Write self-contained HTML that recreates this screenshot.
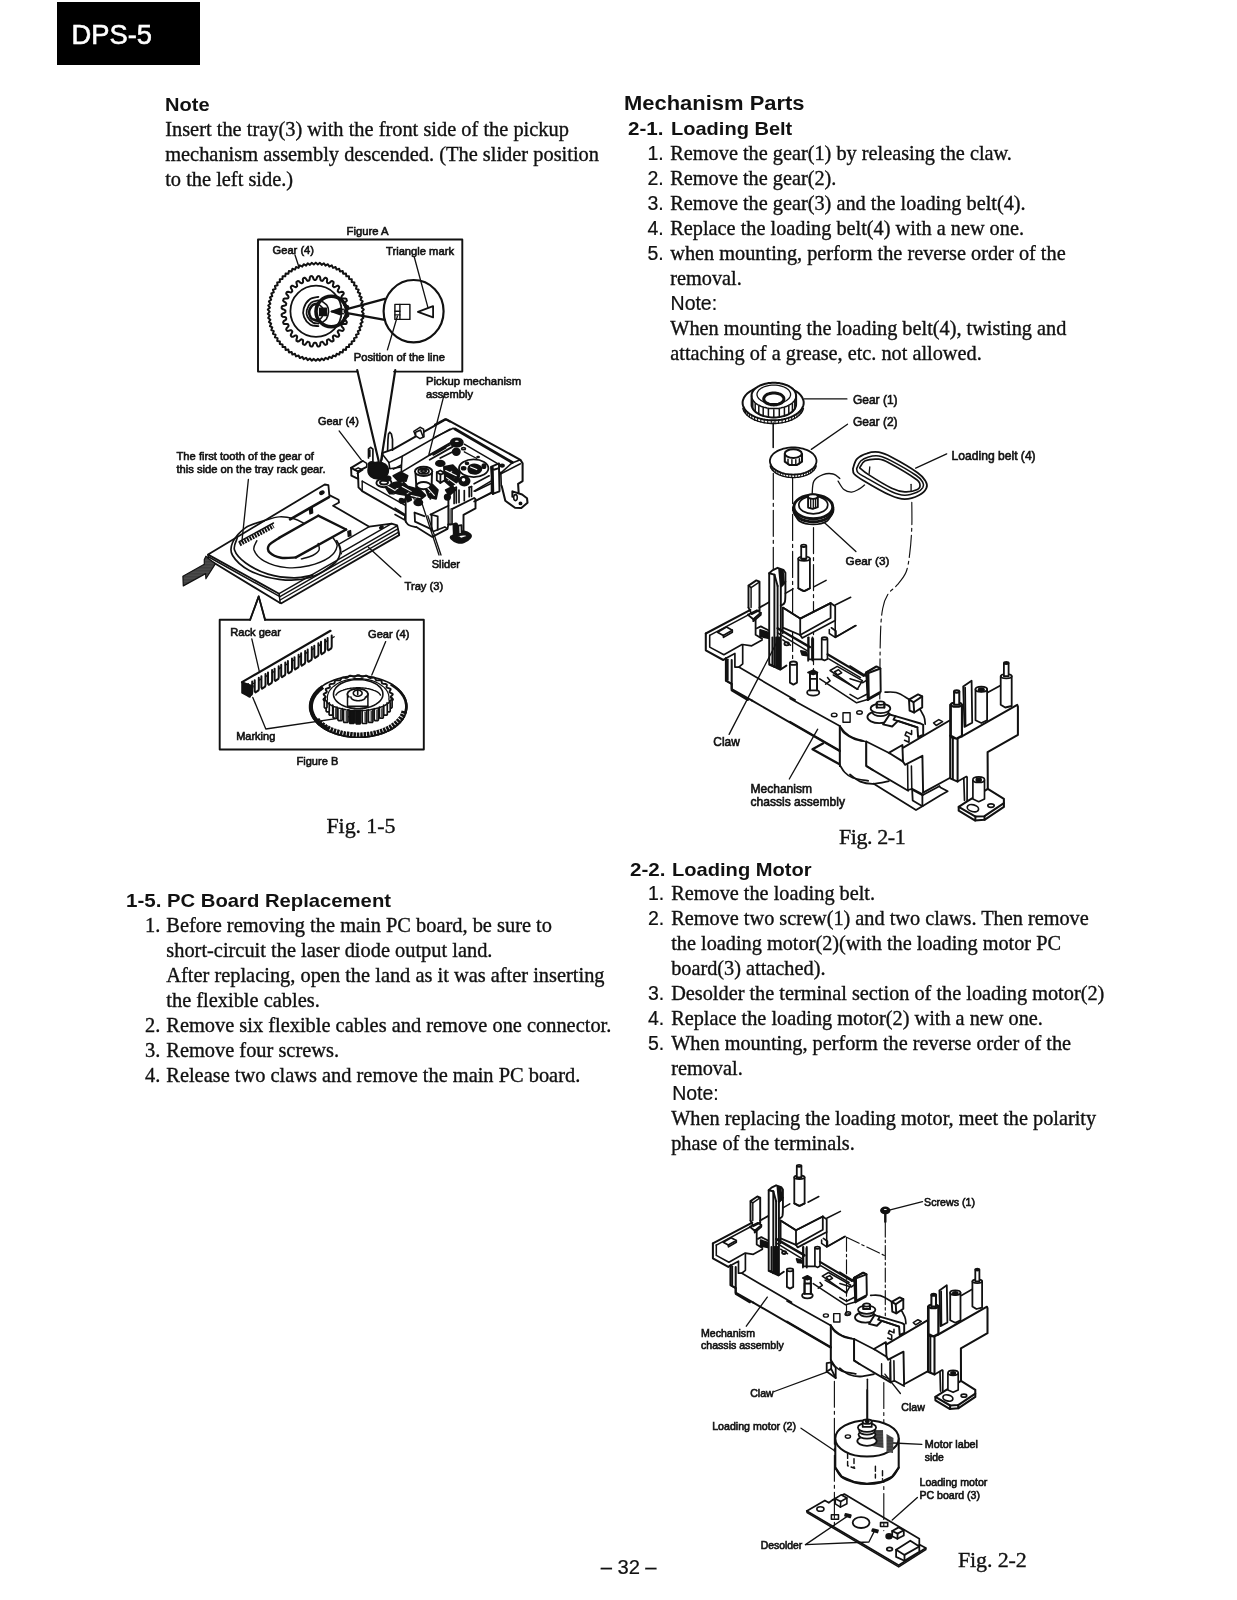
<!DOCTYPE html>
<html lang="en"><head><meta charset="utf-8"><title>DPS-5 Service Manual - Page 32</title>
<style>
html,body{margin:0;padding:0;background:#fff;}
#page{position:relative;width:1237px;height:1600px;overflow:hidden;background:#fff;color:#111;will-change:transform;}
.t{position:absolute;white-space:nowrap;line-height:1em;height:1em;margin:0;padding:0;transform-origin:0 0;}
.s{font-family:"Liberation Serif","Times New Roman",serif;-webkit-text-stroke:0.35px #111;}
.a{font-family:"Liberation Sans",Arial,Helvetica,sans-serif;-webkit-text-stroke:0.2px #111;}
.b{font-family:"Liberation Sans",Arial,Helvetica,sans-serif;font-weight:bold;}
.lab{-webkit-text-stroke:0.6px #111;}
#hdr{position:absolute;left:57px;top:2px;width:143px;height:63px;background:#000;}
#hdr span{position:absolute;left:14.6px;top:19.1px;font:27.3px/1em "Liberation Sans",Arial,sans-serif;color:#fff;white-space:nowrap;-webkit-text-stroke:0.6px #fff;}
svg#art{position:absolute;left:0;top:0;}
</style></head><body>
<div id="page">
<div id="hdr"><span>DPS-5</span></div>
<svg id="art" width="1237" height="1600" viewBox="0 0 1237 1600" fill="none" stroke="#111" stroke-width="1.1" stroke-linecap="round" stroke-linejoin="round">
<defs>
<pattern id="stip" width="1.5" height="1.5" patternUnits="userSpaceOnUse"><rect width="1.5" height="1.5" fill="#111" stroke="none"/><circle cx="0.75" cy="0.75" r="0.42" fill="#fff" stroke="none"/></pattern>
<pattern id="hat" width="2" height="2" patternUnits="userSpaceOnUse" patternTransform="rotate(-31)"><rect width="2" height="2" fill="#ddd" stroke="none"/><rect width="2" height="1.15" fill="#222" stroke="none"/></pattern>
</defs>
<polyline points="357.4,371.6 258.0,371.6 258.0,239.5 462.3,239.5 462.3,371.6 394.1,371.6" stroke-width="1.92"/>
<polyline points="357.2,370.0 378.7,461.2" stroke-width="2.16"/>
<polyline points="395.3,370.0 381.0,461.2" stroke-width="2.16"/>
<circle cx="316.0" cy="311.2" r="25.6" stroke-width="1.80"/>
<path d="M318.4 296.8 C316.9 297.2 311.9 297.5 309.5 299.5 C307.0 301.4 304.6 305.4 303.7 308.4 C302.8 311.3 303.0 314.5 304.1 317.2 C305.2 320.0 308.0 323.3 310.4 324.8 C312.7 326.3 317.0 325.9 318.4 326.1" stroke-width="1.80"/>
<path d="M318.4 300.4 C317.2 300.7 313.2 300.9 311.2 302.6 C309.3 304.2 307.4 307.7 306.8 310.1 C306.2 312.6 306.6 315.2 307.7 317.2 C308.7 319.3 311.2 321.5 313.0 322.6 C314.8 323.6 317.5 323.3 318.4 323.5" stroke-width="1.80"/>
<path d="M318.4 303.5 C317.4 303.8 314.1 303.9 312.6 305.2 C311.1 306.6 309.4 309.3 309.2 311.5 C309.0 313.6 309.9 316.6 311.2 318.1 C312.6 319.7 316.4 320.4 317.5 320.8" stroke-width="2.64" stroke-dasharray="1.2 1.0"/>
<path d="M321.9 301.2 C322.8 302.0 326.1 303.9 327.2 305.7 C328.4 307.5 328.7 309.7 328.6 311.9 C328.4 314.1 327.5 317.2 326.4 319.0 C325.2 320.8 322.7 322.0 321.9 322.6" stroke-width="1.56"/>
<path d="M319.2 304.8 C319.8 305.4 322.1 307.0 322.8 308.4 C323.5 309.7 323.4 311.3 323.2 312.8 C323.1 314.3 322.6 316.1 321.9 317.2 C321.2 318.4 319.7 319.5 319.2 319.9" stroke-width="1.56"/>
<polygon points="319.7,308.4 326.4,308.4 326.4,315.5 319.7,315.5" stroke-width="1.56" fill="#111"/>
<polygon points="331.5,311.5 340.6,308.2 340.6,314.8" stroke-width="1.56" fill="#111"/>
<polyline points="331.5,311.5 343.3,309.2" stroke-width="1.56"/>
<polyline points="331.5,311.5 343.3,313.7" stroke-width="1.56"/>
<circle cx="331.3" cy="311.5" r="15.3" stroke-width="3.60"/>
<polyline points="345.9,309.4 384.9,298.9" stroke-width="2.16"/>
<polyline points="345.9,312.9 384.9,319.9" stroke-width="2.16"/>
<ellipse cx="413.6" cy="311.2" rx="30.0" ry="31.2" stroke-width="2.16"/>
<polygon points="394.9,304.4 409.9,304.4 409.9,319.4 394.9,319.4" stroke-width="1.44"/>
<polyline points="399.9,304.4 399.9,319.4" stroke-width="1.44"/>
<polyline points="394.9,311.2 399.9,311.2" stroke-width="1.44"/>
<polyline points="394.9,314.9 399.9,314.9" stroke-width="1.44"/>
<polygon points="417.9,311.9 433.1,306.2 433.1,317.4" stroke-width="1.80"/>
<polyline points="414.4,257.5 427.9,307.4" stroke-width="1.32"/>
<polyline points="397.4,316.2 387.4,349.9" stroke-width="1.32"/>
<polyline points="295.0,255.0 298.7,266.2" stroke-width="1.32"/>
<path d="M361.9 311.7 L363.8 313.8 L361.7 315.7 L363.4 317.9 L361.2 319.7 L362.7 322.0 L360.4 323.6 L361.7 326.1 L359.3 327.4 L360.3 330.0 L357.8 331.1 L358.7 333.8 L356.0 334.7 L356.7 337.4 L354.0 338.1 L354.4 340.9 L351.7 341.4 L351.8 344.1 L349.1 344.4 L349.0 347.1 L346.3 347.1 L346.0 349.9 L343.2 349.6 L342.7 352.4 L340.0 351.9 L339.2 354.6 L336.6 353.8 L335.6 356.4 L333.0 355.5 L331.8 358.0 L329.3 356.8 L327.9 359.2 L325.5 357.8 L323.9 360.1 L321.7 358.5 L319.9 360.6 L317.8 358.9 L315.8 360.8 L313.8 358.9 L311.7 360.6 L309.9 358.5 L307.7 360.1 L306.1 357.8 L303.7 359.2 L302.3 356.8 L299.8 358.0 L298.6 355.5 L296.0 356.4 L295.0 353.8 L292.4 354.6 L291.6 351.9 L288.9 352.4 L288.4 349.6 L285.6 349.9 L285.3 347.1 L282.6 347.1 L282.5 344.4 L279.8 344.1 L279.9 341.4 L277.2 340.9 L277.6 338.1 L274.9 337.4 L275.6 334.7 L272.9 333.8 L273.8 331.1 L271.3 330.0 L272.3 327.4 L269.9 326.1 L271.2 323.6 L268.9 322.0 L270.4 319.7 L268.2 317.9 L269.9 315.7 L267.8 313.8 L269.7 311.7 L267.8 309.6 L269.9 307.7 L268.2 305.5 L270.4 303.7 L268.9 301.4 L271.2 299.8 L269.9 297.3 L272.3 296.0 L271.3 293.4 L273.8 292.3 L272.9 289.6 L275.6 288.7 L274.9 286.0 L277.6 285.3 L277.2 282.5 L279.9 282.0 L279.8 279.3 L282.5 279.0 L282.6 276.3 L285.3 276.3 L285.6 273.5 L288.4 273.8 L288.9 271.0 L291.6 271.5 L292.4 268.8 L295.0 269.6 L296.0 267.0 L298.6 267.9 L299.8 265.4 L302.3 266.6 L303.7 264.2 L306.1 265.6 L307.7 263.3 L309.9 264.9 L311.7 262.8 L313.8 264.5 L315.8 262.6 L317.8 264.5 L319.9 262.8 L321.7 264.9 L323.9 263.3 L325.5 265.6 L327.9 264.2 L329.3 266.6 L331.8 265.4 L333.0 267.9 L335.6 267.0 L336.6 269.6 L339.2 268.8 L340.0 271.5 L342.7 271.0 L343.2 273.8 L346.0 273.5 L346.3 276.3 L349.0 276.3 L349.1 279.0 L351.8 279.3 L351.7 282.0 L354.4 282.5 L354.0 285.3 L356.7 286.0 L356.0 288.7 L358.7 289.6 L357.8 292.3 L360.3 293.4 L359.3 296.0 L361.7 297.3 L360.4 299.8 L362.7 301.4 L361.2 303.7 L363.4 305.5 L361.7 307.7 L363.8 309.6 L361.9 311.7Z" stroke-width="2.0"/>
<path d="M344.6 311.3 L344.6 312.0 L345.4 312.7 L347.6 313.6 L348.4 314.5 L348.3 315.3 L348.2 316.0 L347.3 316.7 L344.9 317.1 L344.0 317.6 L343.9 318.3 L343.7 319.0 L344.3 319.9 L346.3 321.2 L346.9 322.2 L346.6 323.0 L346.4 323.7 L345.3 324.1 L343.0 324.0 L342.0 324.3 L341.7 324.9 L341.4 325.6 L341.8 326.6 L343.4 328.3 L343.8 329.4 L343.4 330.1 L343.0 330.7 L341.9 330.9 L339.6 330.2 L338.6 330.3 L338.1 330.9 L337.7 331.4 L337.9 332.5 L339.1 334.6 L339.2 335.7 L338.7 336.3 L338.2 336.8 L337.1 336.8 L335.0 335.6 L334.0 335.4 L333.5 335.8 L332.9 336.3 L332.9 337.4 L333.6 339.7 L333.5 340.8 L332.8 341.2 L332.2 341.6 L331.1 341.3 L329.4 339.7 L328.4 339.3 L327.8 339.6 L327.2 339.9 L326.9 340.9 L327.2 343.3 L326.8 344.3 L326.1 344.6 L325.4 344.9 L324.4 344.3 L323.1 342.3 L322.2 341.7 L321.6 341.9 L320.9 342.1 L320.4 343.0 L320.1 345.4 L319.5 346.3 L318.8 346.4 L318.0 346.5 L317.2 345.7 L316.4 343.5 L315.7 342.7 L315.0 342.7 L314.3 342.7 L313.6 343.5 L312.8 345.7 L312.0 346.5 L311.2 346.4 L310.5 346.3 L309.9 345.4 L309.6 343.0 L309.1 342.1 L308.4 341.9 L307.8 341.7 L306.9 342.3 L305.6 344.3 L304.6 344.9 L303.9 344.6 L303.2 344.3 L302.8 343.3 L303.1 340.9 L302.8 339.9 L302.2 339.6 L301.6 339.3 L300.6 339.7 L298.9 341.3 L297.8 341.6 L297.2 341.2 L296.5 340.8 L296.4 339.7 L297.1 337.4 L297.1 336.3 L296.5 335.8 L296.0 335.4 L295.0 335.6 L292.9 336.8 L291.8 336.8 L291.3 336.3 L290.8 335.7 L290.9 334.6 L292.1 332.5 L292.3 331.4 L291.9 330.9 L291.4 330.3 L290.4 330.2 L288.1 330.9 L287.0 330.7 L286.6 330.1 L286.2 329.4 L286.6 328.3 L288.2 326.6 L288.6 325.6 L288.3 324.9 L288.0 324.3 L287.0 324.0 L284.7 324.1 L283.6 323.7 L283.4 323.0 L283.1 322.2 L283.7 321.2 L285.7 319.9 L286.3 319.0 L286.1 318.3 L286.0 317.6 L285.1 317.1 L282.7 316.7 L281.8 316.0 L281.7 315.3 L281.6 314.5 L282.4 313.6 L284.6 312.7 L285.4 312.0 L285.4 311.3 L285.4 310.6 L284.6 309.9 L282.4 309.0 L281.6 308.1 L281.7 307.3 L281.8 306.6 L282.7 305.9 L285.1 305.5 L286.0 305.0 L286.1 304.3 L286.3 303.6 L285.7 302.7 L283.7 301.4 L283.1 300.4 L283.4 299.6 L283.6 298.9 L284.7 298.5 L287.0 298.6 L288.0 298.3 L288.3 297.7 L288.6 297.0 L288.2 296.0 L286.6 294.3 L286.2 293.2 L286.6 292.5 L287.0 291.9 L288.1 291.7 L290.4 292.4 L291.4 292.3 L291.9 291.7 L292.3 291.2 L292.1 290.1 L290.9 288.0 L290.8 286.9 L291.3 286.3 L291.8 285.8 L292.9 285.8 L295.0 287.0 L296.0 287.2 L296.5 286.8 L297.1 286.3 L297.1 285.2 L296.4 282.9 L296.5 281.8 L297.2 281.4 L297.8 281.0 L298.9 281.3 L300.6 282.9 L301.6 283.3 L302.2 283.0 L302.8 282.7 L303.1 281.7 L302.8 279.3 L303.2 278.3 L303.9 278.0 L304.6 277.7 L305.6 278.3 L306.9 280.3 L307.8 280.9 L308.4 280.7 L309.1 280.5 L309.6 279.6 L309.9 277.2 L310.5 276.3 L311.2 276.2 L312.0 276.1 L312.8 276.9 L313.6 279.1 L314.3 279.9 L315.0 279.9 L315.7 279.9 L316.4 279.1 L317.2 276.9 L318.0 276.1 L318.8 276.2 L319.5 276.3 L320.1 277.2 L320.4 279.6 L320.9 280.5 L321.6 280.7 L322.2 280.9 L323.1 280.3 L324.4 278.3 L325.4 277.7 L326.1 278.0 L326.8 278.3 L327.2 279.3 L326.9 281.7 L327.2 282.7 L327.8 283.0 L328.4 283.3 L329.4 282.9 L331.1 281.3 L332.2 281.0 L332.8 281.4 L333.5 281.8 L333.6 282.9 L332.9 285.2 L332.9 286.3 L333.5 286.8 L334.0 287.2 L335.0 287.0 L337.1 285.8 L338.2 285.8 L338.7 286.3 L339.2 286.9 L339.1 288.0 L337.9 290.1 L337.7 291.2 L338.1 291.7 L338.6 292.3 L339.6 292.4 L341.9 291.7 L343.0 291.9 L343.4 292.5 L343.8 293.2 L343.4 294.3 L341.8 296.0 L341.4 297.0 L341.7 297.7 L342.0 298.3 L343.0 298.6 L345.3 298.5 L346.4 298.9 L346.6 299.6 L346.9 300.4 L346.3 301.4 L344.3 302.7 L343.7 303.6 L343.9 304.3 L344.0 305.0 L344.9 305.5 L347.3 305.9 L348.2 306.6 L348.3 307.3 L348.4 308.1 L347.6 309.0 L345.4 309.9 L344.6 310.6 L344.6 311.3Z" stroke-width="2.0"/>
<polyline points="279.1,593.7 208.1,554.6 324.7,484.5 328.4,485.2 329.3,495.1 338.6,499.8 339.0,502.5 333.1,505.7 369.3,526.7 391.6,523.6 397.2,525.4 399.1,534.2" stroke-width="1.80"/>
<polyline points="208.1,554.6 208.5,559.6 280.1,602.9 281.4,603.3 399.2,535.1 399.1,534.2" stroke-width="1.80"/>
<polyline points="279.1,593.7 397.0,525.8" stroke-width="1.44"/>
<polyline points="279.5,596.8 397.9,528.9" stroke-width="1.44"/>
<polyline points="280.1,600.0 398.7,532.1" stroke-width="1.44"/>
<polyline points="279.1,593.7 280.2,603.1" stroke-width="1.44"/>
<polyline points="208.8,557.0 279.5,596.4" stroke-width="1.44"/>
<polyline points="369.3,526.7 338.6,544.4" stroke-width="1.44"/>
<polyline points="391.6,523.6 342.3,551.8" stroke-width="1.44"/>
<polyline points="338.6,544.4 341.4,553.7" stroke-width="1.44"/>
<polyline points="290.1,519.3 329.0,497.1" stroke-width="2.64"/>
<path d="M264.3 520.6 C261.2 521.8 250.9 524.0 245.7 527.6 C240.4 531.3 234.8 537.9 232.6 542.5 C230.5 547.2 229.9 550.9 232.6 555.5 C235.4 560.2 241.6 566.4 249.4 570.4 C257.1 574.4 269.2 578.1 279.1 579.3 C289.0 580.6 299.6 580.6 308.9 577.8 C318.2 575.1 329.6 567.6 334.9 563.0 C340.2 558.3 340.2 553.7 340.5 550.0 C340.8 546.2 337.4 542.2 336.8 540.7" stroke-width="1.68"/>
<path d="M237.3 537.9 C236.8 539.9 233.1 545.8 234.5 550.0 C235.9 554.1 240.1 558.9 245.7 563.0 C251.2 567.0 259.9 571.6 268.0 574.1 C276.0 576.6 286.6 577.7 294.0 577.8 C301.4 578.0 309.5 575.5 312.6 575.1" stroke-width="1.68"/>
<path d="M264.3 520.6 C266.7 520.0 274.2 517.2 279.1 516.9 C284.1 516.5 290.0 517.7 294.0 518.7 C298.0 519.7 301.8 522.3 303.3 523.0" stroke-width="1.44"/>
<path d="M256.8 540.7 C256.3 542.2 252.8 546.5 254.0 550.0 C255.3 553.4 258.8 558.2 264.3 561.1 C269.7 564.1 279.1 566.8 286.6 567.6 C294.0 568.4 301.8 567.5 308.9 565.8 C316.0 564.1 324.6 560.6 329.3 557.4 C334.0 554.1 336.5 549.5 337.1 546.2 C337.8 543.0 333.7 539.3 333.1 537.9" stroke-width="1.44"/>
<path d="M346.1 529.5 L318.2 515.7" stroke-width="2.40"/>
<polyline points="318.2,515.7 279.1,537.9" stroke-width="2.40"/>
<path d="M279.1 537.9 C277.4 539.1 270.5 542.8 268.9 545.3 C267.4 547.8 267.8 550.7 269.8 552.7 C271.8 554.8 276.6 557.0 281.0 557.8 C285.3 558.5 293.4 557.5 295.9 557.4" stroke-width="2.40"/>
<polyline points="295.9,557.4 346.1,529.5" stroke-width="2.40"/>
<path d="M318.2 543.4 C318.3 544.5 320.0 547.9 319.1 550.0 C318.2 552.0 315.5 554.0 312.6 555.5 C309.7 557.0 303.3 558.3 301.4 558.9" stroke-width="1.44"/>
<ellipse cx="321.9" cy="492.7" rx="2.2" ry="1.5" transform="rotate(-30 321.9 492.7)" stroke-width="1.44" fill="#111"/>
<ellipse cx="381.4" cy="527.3" rx="1.9" ry="1.1" transform="rotate(-30 381.4 527.3)" stroke-width="1.44" fill="#111"/>
<polygon points="309.3,508.1 312.2,507.2 312.6,512.8 310.0,513.9" stroke-width="1.44" fill="#111"/>
<polygon points="347.9,531.4 350.5,530.6 350.9,535.5 348.3,536.2" stroke-width="1.44" fill="#111"/>
<line x1="239.5" y1="544.2" x2="273.5" y2="526" stroke-width="4.4" stroke-dasharray="1.9 1.0" stroke-linecap="butt"/>
<polyline points="239.2,541.6 273.5,523.0" stroke-width="1.44"/>
<polygon points="182.9,576.2 204.3,564.3 204.3,559.4 205.9,556.2 208.8,558.8 215.3,563.9 205.9,578.8 205.6,573.6 183.3,585.9" fill="url(#stip)" stroke="#111" stroke-width="1.2"/>
<polyline points="248.4,479.3 241.9,541.6" stroke-width="1.32"/>
<polyline points="368.4,547.2 400.9,576.9" stroke-width="1.32"/>
<polyline points="250.3,619.7 258.7,596.4 265.2,619.7" stroke-width="1.68"/>
<polyline points="362.7,460.9 351.1,467.8 351.4,475.6 358.2,478.9 358.5,487.4 362.2,491.1 404.0,515.1" stroke-width="1.92"/>
<polyline points="351.1,467.8 357.8,471.4 358.2,478.9" stroke-width="1.92"/>
<polyline points="357.8,471.4 366.7,466.9" stroke-width="1.92"/>
<polyline points="354.2,469.8 358.2,467.8 362.7,470.0 357.3,473.3" stroke-width="1.44"/>
<polyline points="362.2,481.1 362.2,491.1" stroke-width="1.44"/>
<polyline points="362.2,481.1 404.9,505.2" stroke-width="1.44"/>
<polyline points="366.7,466.9 366.7,463.4 362.7,460.9" stroke-width="1.44"/>
<polyline points="368.5,458.0 368.5,449.1 370.7,447.3 372.9,449.1 372.9,461.1" stroke-width="1.68"/>
<polyline points="369.8,450.0 369.8,456.2" stroke-width="1.68"/>
<polyline points="387.6,450.5 388.0,439.3 388.5,434.0 389.8,432.2 391.4,434.0 392.5,439.3 392.5,450.2" stroke-width="1.68"/>
<polyline points="382.7,452.9 393.4,449.1 445.8,419.3 450.0,421.6" stroke-width="1.92"/>
<polyline points="381.8,453.6 388.9,462.6 402.2,456.2 450.0,429.1" stroke-width="1.56"/>
<polyline points="388.9,462.6 389.8,468.7 401.4,466.9 402.2,456.2" stroke-width="1.56"/>
<polyline points="401.4,466.9 401.4,472.2" stroke-width="1.56"/>
<polyline points="382.7,452.9 381.8,459.8" stroke-width="1.56"/>
<polyline points="401.4,472.2 428.9,455.5 450.0,444.9" stroke-width="1.56"/>
<polyline points="393.4,469.1 401.4,465.0" stroke-width="1.56"/>
<polygon points="413.8,431.3 420.0,427.3 423.6,429.1 424.0,436.7 420.0,438.6 415.6,435.8" stroke-width="1.56" fill="#fff"/>
<polyline points="415.6,435.8 415.6,432.2 420.5,430.0 423.1,436.7" stroke-width="1.56"/>
<ellipse cx="378.2" cy="470.5" rx="10.0" ry="8.4" stroke-width="1.92" fill="#111"/>
<ellipse cx="372.0" cy="464.7" rx="3.6" ry="2.7" stroke-width="1.92" fill="#111"/>
<ellipse cx="384.0" cy="482.9" rx="7.6" ry="4.3" stroke-width="1.92" fill="#fff"/>
<ellipse cx="384.0" cy="482.5" rx="4.0" ry="2.0" stroke-width="1.92"/>
<ellipse cx="386.2" cy="478.5" rx="4.4" ry="2.2" stroke-width="1.92" fill="#111"/>
<polygon points="386.2,488.3 393.4,482.9 402.2,481.1 407.6,486.5 420.0,490.0 425.4,495.4 420.0,499.8 407.6,495.4 396.9,493.6 389.8,493.6" stroke-width="1.92" fill="#111"/>
<polygon points="393.4,475.8 400.5,472.2 407.6,475.8 405.8,481.1 397.8,480.3" stroke-width="1.92" fill="#111"/>
<ellipse cx="402.2" cy="500.7" rx="2.7" ry="2.2" stroke-width="1.92" fill="#111"/>
<ellipse cx="418.3" cy="502.5" rx="4.0" ry="2.7" stroke-width="1.92" fill="#111"/>
<polygon points="425.4,488.3 432.5,484.7 437.8,490.0 436.0,498.9 428.9,497.1" stroke-width="1.92" fill="#111"/>
<polygon points="405.8,495.4 409.4,493.6 411.1,499.8 407.6,501.6" stroke-width="1.92" fill="#111"/>
<ellipse cx="423.6" cy="471.4" rx="8.7" ry="4.6" stroke-width="1.92" fill="#fff"/>
<ellipse cx="423.6" cy="471.2" rx="5.3" ry="2.7" stroke-width="1.92"/>
<ellipse cx="423.6" cy="471.0" rx="2.5" ry="1.2" stroke-width="1.92"/>
<polyline points="415.6,474.0 416.5,490.0" stroke-width="1.92"/>
<polyline points="432.0,473.1 431.6,486.5" stroke-width="1.92"/>
<ellipse cx="423.6" cy="485.6" rx="7.1" ry="3.6" stroke-width="1.92" fill="#fff"/>
<polyline points="416.5,486.5 417.4,498.9" stroke-width="1.92"/>
<polyline points="430.7,486.5 430.3,498.9" stroke-width="1.92"/>
<polyline points="416.8,487.7 439.0,555.0" stroke-width="1.32"/>
<polyline points="427.8,515.8 441.0,555.0" stroke-width="1.32"/>
<polyline points="443.6,396.7 428.9,454.5" stroke-width="1.32"/>
<polyline points="339.1,430.9 361.3,459.8" stroke-width="1.32"/>
<polyline points="435.0,424.7 444.8,419.3 447.0,419.6 520.4,459.8 522.6,463.4 522.6,481.1 518.1,483.8 518.6,492.3" stroke-width="2.04"/>
<polyline points="455.0,429.1 512.4,462.6" stroke-width="2.88"/>
<polyline points="435.0,437.1 453.2,428.2 455.0,429.1" stroke-width="1.56"/>
<polyline points="512.4,462.6 500.4,473.3" stroke-width="1.56"/>
<polyline points="520.4,459.8 513.3,462.5" stroke-width="1.56"/>
<polyline points="464.3,444.2 497.2,463.4" stroke-width="1.56"/>
<polyline points="500.4,474.0 520.4,463.8" stroke-width="1.56"/>
<polyline points="500.8,472.2 501.3,485.6" stroke-width="1.56"/>
<polygon points="491.0,466.9 499.0,463.4 499.2,490.0 492.8,494.0" stroke-width="1.92" fill="#fff"/>
<polyline points="492.8,467.8 493.2,493.6" stroke-width="1.92"/>
<ellipse cx="502.1" cy="465.6" rx="1.8" ry="1.2" stroke-width="1.92" fill="#111"/>
<polyline points="501.7,486.0 505.3,500.7 515.0,507.8 521.3,508.0 527.5,502.7 527.0,498.2 522.1,494.5 512.4,491.4 512.4,496.7" stroke-width="2.04"/>
<ellipse cx="515.5" cy="497.6" rx="1.8" ry="3.0" stroke-width="1.56"/>
<ellipse cx="520.5" cy="503.4" rx="1.2" ry="1.1" stroke-width="1.56" fill="#111"/>
<ellipse cx="456.8" cy="442.5" rx="6.2" ry="4.3" stroke-width="1.56" fill="#111"/>
<ellipse cx="456.8" cy="441.3" rx="2.8" ry="1.6" stroke-width="1.56" fill="#fff"/>
<ellipse cx="456.3" cy="451.8" rx="3.7" ry="3.4" stroke-width="1.56" fill="#111"/>
<ellipse cx="463.5" cy="448.7" rx="2.0" ry="1.1" stroke-width="1.56" fill="#fff"/>
<polyline points="429.7,454.9 450.1,443.1" stroke-width="1.80"/>
<polyline points="429.7,459.8 452.8,446.6" stroke-width="1.80"/>
<polyline points="440.3,458.0 452.8,451.8" stroke-width="1.80"/>
<polyline points="433.2,454.9 445.7,447.8" stroke-width="1.80"/>
<polyline points="464.3,451.8 476.8,458.5" stroke-width="1.32"/>
<ellipse cx="478.1" cy="457.0" rx="1.2" ry="0.7" stroke-width="1.32" fill="#111"/>
<ellipse cx="473.7" cy="468.2" rx="14.7" ry="8.9" stroke-width="1.80" fill="#fff"/>
<path d="M468.8 466.9 C469.4 465.8 470.9 465.0 472.3 464.7 C473.8 464.4 476.2 464.6 477.7 465.1 C479.2 465.7 480.9 466.6 481.2 467.8 C481.5 469.0 480.8 471.3 479.5 472.2 C478.1 473.2 475.0 473.7 473.2 473.6 C471.5 473.4 469.5 472.5 468.8 471.4 C468.1 470.2 468.2 468.0 468.8 466.9Z" stroke-width="1.80" fill="#111"/>
<ellipse cx="463.6" cy="468.2" rx="2.0" ry="1.4" stroke-width="1.80" fill="#111"/>
<ellipse cx="483.9" cy="466.2" rx="1.6" ry="2.0" stroke-width="1.80" fill="#111"/>
<ellipse cx="467.0" cy="463.4" rx="1.4" ry="0.9" stroke-width="1.80" fill="#111"/>
<ellipse cx="476.8" cy="472.2" rx="2.7" ry="0.9" transform="rotate(-20 476.8 472.2)" stroke-width="1.80" fill="#fff"/>
<ellipse cx="464.3" cy="481.1" rx="5.3" ry="4.4" stroke-width="1.80" fill="#111"/>
<ellipse cx="463.5" cy="479.8" rx="2.7" ry="2.7" stroke-width="1.80" fill="#fff"/>
<polygon points="443.9,466.9 452.8,465.1 459.9,472.2 458.1,481.1 451.0,486.5 444.8,481.1" stroke-width="1.80" fill="#111"/>
<ellipse cx="440.3" cy="463.4" rx="4.4" ry="2.7" stroke-width="1.80" fill="#111"/>
<polygon points="445.7,490.0 452.8,486.5 455.5,490.0 449.2,495.4" stroke-width="1.80" fill="#111"/>
<ellipse cx="447.4" cy="497.1" rx="2.7" ry="2.7" stroke-width="1.80" fill="#111"/>
<polygon points="436.8,472.2 440.3,470.5 444.8,473.1 444.8,480.3 440.3,482.9 436.8,480.3" stroke-width="1.80" fill="#fff"/>
<polyline points="436.8,472.2 440.5,474.5 444.8,473.1" stroke-width="1.80"/>
<polyline points="440.5,474.5 440.3,482.9" stroke-width="1.80"/>
<polyline points="474.1,491.1 491.0,481.1" stroke-width="1.68"/>
<polyline points="474.1,501.6 492.8,491.8" stroke-width="1.68"/>
<polyline points="489.2,475.8 474.1,483.8" stroke-width="1.68"/>
<polyline points="454.1,488.3 454.1,503.4" stroke-width="1.68"/>
<polyline points="456.3,487.4 456.3,502.9" stroke-width="1.68"/>
<polyline points="459.0,490.0 459.0,502.5" stroke-width="1.68"/>
<polyline points="464.3,490.5 464.3,500.7" stroke-width="1.68"/>
<polyline points="469.2,487.4 469.2,496.7" stroke-width="1.68"/>
<polyline points="471.5,486.5 471.5,496.3" stroke-width="1.68"/>
<polyline points="454.1,488.3 456.3,487.4" stroke-width="1.68"/>
<polyline points="469.2,487.4 471.5,486.5" stroke-width="1.68"/>
<ellipse cx="396.9" cy="488.7" rx="2.5" ry="1.1" transform="rotate(-25 396.9 488.7)" stroke-width="1.08" fill="#fff"/>
<ellipse cx="408.0" cy="493.1" rx="2.1" ry="1.0" transform="rotate(-25 408.0 493.1)" stroke-width="1.08" fill="#fff"/>
<ellipse cx="402.2" cy="482.5" rx="1.6" ry="0.8" stroke-width="1.08" fill="#fff"/>
<ellipse cx="415.6" cy="498.0" rx="2.0" ry="0.9" transform="rotate(-25 415.6 498.0)" stroke-width="1.08" fill="#fff"/>
<ellipse cx="393.4" cy="493.1" rx="1.2" ry="0.7" stroke-width="1.08" fill="#fff"/>
<ellipse cx="429.8" cy="492.3" rx="1.4" ry="0.9" stroke-width="1.08" fill="#fff"/>
<g stroke="#fff" stroke-width="1.1">
<polyline points="388.0,486.5 395.1,490.5" stroke-width="1.08"/>
<polyline points="402.2,486.5 411.1,491.4" stroke-width="1.08"/>
<polyline points="395.1,494.5 404.0,498.0" stroke-width="1.08"/>
<polyline points="411.1,495.4 420.0,497.6" stroke-width="1.08"/>
<polyline points="428.0,488.3 434.3,495.4" stroke-width="1.08"/>
</g>
<ellipse cx="451.0" cy="472.2" rx="2.0" ry="1.2" transform="rotate(-20 451.0 472.2)" stroke-width="1.08" fill="#fff"/>
<ellipse cx="448.3" cy="480.3" rx="1.4" ry="0.9" stroke-width="1.08" fill="#fff"/>
<ellipse cx="454.1" cy="477.6" rx="1.1" ry="0.7" stroke-width="1.08" fill="#fff"/>
<g stroke="#fff" stroke-width="1.1">
<polyline points="445.7,470.5 456.3,475.8" stroke-width="1.08"/>
<polyline points="446.6,477.6 455.5,483.8" stroke-width="1.08"/>
<polyline points="470.6,466.9 476.8,469.6" stroke-width="1.08"/>
</g>
<polyline points="451.9,509.1 474.1,498.0 475.5,499.3 475.5,508.4 463.5,514.9 463.5,531.4" stroke-width="1.92"/>
<polyline points="448.4,500.2 448.4,524.4" stroke-width="1.92"/>
<polyline points="451.9,509.1 451.9,523.4" stroke-width="1.92"/>
<line x1="450.2" y1="509.5" x2="450.2" y2="524.5" stroke="#777" stroke-width="2.6"/>
<polyline points="448.4,524.4 453.7,524.2" stroke-width="1.92"/>
<path d="M451.0 536.5 C451.4 535.9 453.2 536.4 453.7 534.5 C454.1 532.5 453.1 526.4 453.7 524.7 C454.3 523.0 456.6 523.2 457.2 524.4 C457.9 525.7 456.7 531.1 457.7 532.2 C458.7 533.4 461.4 530.9 463.5 531.2 C465.5 531.5 469.0 533.1 470.1 534.2 C471.3 535.3 471.3 536.6 470.1 537.9 C469.0 539.3 465.6 541.6 463.5 542.4 C461.3 543.1 459.3 543.0 457.2 542.4 C455.2 541.7 452.2 539.5 451.2 538.5 C450.2 537.5 450.6 537.2 451.0 536.5Z" stroke-width="1.92" fill="#111"/>
<polygon points="458.3,525.6 461.5,525.1 461.7,533.6 458.6,534.2" stroke-width="1.92" fill="#fff"/>
<polygon points="457.2,535.4 465.3,534.2 467.9,536.3 460.8,538.9" stroke-width="1.92" fill="#fff"/>
<polyline points="405.7,496.7 405.7,521.6" stroke-width="1.80"/>
<path d="M405.7 521.6 C406.3 522.2 407.4 524.4 409.2 525.3 C411.0 526.2 415.2 526.8 416.3 527.1" stroke-width="1.80"/>
<polyline points="416.3,527.1 432.3,536.9 447.5,528.9 448.4,524.4" stroke-width="1.80"/>
<polyline points="414.6,512.7 415.0,521.6 430.6,528.9" stroke-width="1.80"/>
<polyline points="430.6,514.5 437.7,516.4 437.7,529.8" stroke-width="1.80"/>
<polyline points="431.6,514.9 431.6,530.6" stroke-width="1.80"/>
<polyline points="430.6,514.5 448.4,505.7" stroke-width="1.80"/>
<polyline points="414.6,512.7 424.3,516.2" stroke-width="1.80"/>
<polyline points="395.0,508.2 404.8,514.5 404.8,520.0 395.0,514.5" stroke-width="1.56"/>
<polyline points="433.2,531.4 444.8,526.9 447.5,528.9" stroke-width="1.56"/>
<polyline points="491.5,478.9 491.5,493.1 475.5,501.1" stroke-width="1.56"/>
<polyline points="475.0,491.3 491.5,483.3" stroke-width="1.56"/>
<polygon points="492.8,470.0 499.0,468.2 499.5,491.3 493.3,493.6" stroke-width="1.92" fill="#fff"/>
<polyline points="250.0,619.7 219.7,619.7 219.7,749.5 423.8,749.5 423.8,619.7 264.9,619.7" stroke-width="1.92"/>
<polyline points="250.0,619.7 258.7,596.4 264.9,619.7" stroke-width="1.68"/>
<polyline points="242.0,682.1 330.5,630.8" stroke-width="2.16"/>
<polygon points="242.0,682.1 242.0,692.7 250.0,697.0 253.1,685.9 248.1,684.4" stroke-width="1.56" fill="#111"/>
<polyline points="251.8,638.8 259.3,671.4" stroke-width="1.32"/>
<polyline points="385.7,641.6 371.8,675.1" stroke-width="1.32"/>
<polyline points="252.8,697.4 265.8,729.0 351.3,716.4" stroke-width="1.32"/>
<polyline points="248.1,684.0 248.1,695.2 248.9,696.3 251.9,694.3 252.2,692.8 252.2,681.6" stroke-width="2.0"/>
<polyline points="252.2,684.2 254.7,682.8" stroke-width="1.3"/>
<polyline points="254.7,680.2 254.7,691.3 255.5,692.4 258.5,690.4 258.8,689.0 258.8,677.8" stroke-width="2.0"/>
<polyline points="258.8,680.4 261.4,678.9" stroke-width="1.3"/>
<polyline points="261.4,676.3 261.4,687.5 262.1,688.6 265.1,686.6 265.5,685.1 265.5,674.0" stroke-width="2.0"/>
<polyline points="265.5,676.6 268.0,675.1" stroke-width="1.3"/>
<polyline points="268.0,672.5 268.0,683.7 268.7,684.8 271.7,682.8 272.1,681.3 272.1,670.1" stroke-width="2.0"/>
<polyline points="272.1,672.7 274.6,671.3" stroke-width="1.3"/>
<polyline points="274.6,668.7 274.6,679.8 275.4,680.9 278.3,678.9 278.7,677.5 278.7,666.3" stroke-width="2.0"/>
<polyline points="278.7,668.9 281.2,667.4" stroke-width="1.3"/>
<polyline points="281.2,664.8 281.2,676.0 282.0,677.1 285.0,675.1 285.3,673.6 285.3,662.5" stroke-width="2.0"/>
<polyline points="285.3,665.1 287.9,663.6" stroke-width="1.3"/>
<polyline points="287.9,661.0 287.9,672.2 288.6,673.3 291.6,671.3 292.0,669.8 292.0,658.6" stroke-width="2.0"/>
<polyline points="292.0,661.2 294.5,659.8" stroke-width="1.3"/>
<polyline points="294.5,657.2 294.5,668.3 295.2,669.4 298.2,667.4 298.6,666.0 298.6,654.8" stroke-width="2.0"/>
<polyline points="298.6,657.4 301.1,655.9" stroke-width="1.3"/>
<polyline points="301.1,653.3 301.1,664.5 301.8,665.6 304.8,663.6 305.2,662.1 305.2,651.0" stroke-width="2.0"/>
<polyline points="305.2,653.6 307.7,652.1" stroke-width="1.3"/>
<polyline points="307.7,649.5 307.7,660.7 308.5,661.8 311.5,659.8 311.8,658.3 311.8,647.1" stroke-width="2.0"/>
<polyline points="311.8,649.7 314.3,648.3" stroke-width="1.3"/>
<polyline points="314.3,645.7 314.3,656.8 315.1,657.9 318.1,655.9 318.4,654.5 318.4,643.3" stroke-width="2.0"/>
<polyline points="318.4,645.9 321.0,644.4" stroke-width="1.3"/>
<polyline points="321.0,641.8 321.0,653.0 321.7,654.1 324.7,652.1 325.1,650.6 325.1,639.5" stroke-width="2.0"/>
<polyline points="325.1,642.1 327.6,640.6" stroke-width="1.3"/>
<polyline points="327.6,638.0 327.6,649.2 328.3,650.3 331.3,648.3 331.7,646.8 331.7,635.6" stroke-width="2.0"/>
<polyline points="331.7,638.2 334.2,636.8" stroke-width="1.3"/>
<polyline points="406.9,706.5 406.7,709.2 406.1,711.8 405.2,714.4 404.0,717.0 402.3,719.5 400.4,721.8 398.1,724.1 395.5,726.2 392.7,728.2 389.6,730.0 386.2,731.6 382.6,733.1 378.9,734.3 375.0,735.3 370.9,736.1 366.8,736.7 362.6,737.0 358.4,737.2 354.2,737.0 350.0,736.7 345.8,736.1 341.8,735.3 337.9,734.3 334.1,733.1 330.6,731.6 327.2,730.0 324.1,728.2 321.2,726.2 318.7,724.1 316.4,721.8 314.4,719.5 312.8,717.0 311.5,714.4 310.6,711.8 310.1,709.2 309.9,706.5 310.1,703.8 310.6,701.2 311.5,698.6 312.8,696.0 314.4,693.6 316.4,691.2 318.7,688.9 321.2,686.8 324.1,684.8 327.2,683.0 330.6,681.4 334.1,680.0 337.9,678.7 341.8,677.7 345.8,676.9 350.0,676.3 354.2,676.0 358.4,675.9 362.6,676.0 366.8,676.3 370.9,676.9 375.0,677.7 378.9,678.7 382.6,680.0 386.2,681.4 389.6,683.0 392.7,684.8 395.5,686.8 398.1,688.9 400.4,691.2 402.3,693.6 404.0,696.0 405.2,698.6 406.1,701.2 406.7,703.8 406.9,706.5" stroke-width="1.6"/>
<polyline points="328.7,729.4 326.7,728.4 324.9,727.4 323.1,726.2 321.4,725.0 319.9,723.8 318.4,722.4 317.1,721.1 315.9,719.7 314.8,718.3 313.8,716.8 313.0,715.3 312.3,713.7 311.8,712.2 311.3,710.6 311.0,709.0 310.9,707.5 310.9,705.9 311.0,704.3 311.3,702.7 311.7,701.1 312.2,699.6 312.9,698.0 313.7,696.5 314.6,695.1 315.7,693.6 316.9,692.2 318.2,690.8 319.6,689.5 321.1,688.3 322.8,687.0" stroke-width="4.2" stroke-linecap="butt"/>
<polyline points="390.7,684.5 391.9,685.2 393.1,685.9 394.2,686.7 395.3,687.4 396.3,688.2 397.3,689.1 398.2,689.9 399.1,690.8 400.0,691.7 400.8,692.6 401.5,693.5 402.2,694.4 402.9,695.4 403.5,696.4 404.0,697.3 404.5,698.3 404.9,699.3 405.3,700.3 405.6,701.4 405.8,702.4 406.0,703.4 406.2,704.4 406.3,705.5 406.3,706.5 406.3,707.5 406.2,708.6 406.0,709.6 405.8,710.6 405.6,711.7 405.3,712.7" stroke-width="2.6" stroke-linecap="butt"/>
<polyline points="404.3,711.2 404.1,712.1 403.8,712.9 403.5,713.8 403.1,714.7 402.7,715.5 402.2,716.4 401.7,717.2 401.2,718.1 400.6,718.9 399.9,719.7 399.2,720.5 398.5,721.3 397.8,722.0 397.0,722.8 396.1,723.5 395.2,724.3 394.3,725.0 393.3,725.6 392.3,726.3 391.3,727.0 390.3,727.6 389.2,728.2 388.0,728.8 386.9,729.3 385.7,729.9 384.5,730.4 383.2,730.9 382.0,731.3 380.7,731.8 379.3,732.2 378.0,732.6 376.7,733.0 375.3,733.3 373.9,733.6 372.5,733.9 371.1,734.2 369.6,734.4 368.2,734.6 366.7,734.8 365.2,734.9 363.8,735.0 362.3,735.1 360.8,735.2 359.3,735.2 357.8,735.2 356.3,735.2 354.9,735.1 353.4,735.1 351.9,734.9 350.4,734.8 349.0,734.6 347.5,734.4 346.1,734.2 344.7,734.0 343.2,733.7 341.9,733.4 340.5,733.1 339.1,732.7 337.8,732.3 336.4,731.9 335.1,731.5 333.9,731.0 332.6,730.5 331.4,730.0 330.2,729.5 329.0,728.9 327.9,728.3 326.8,727.7 325.7,727.1 324.7,726.5 323.7,725.8 322.7,725.1 321.8,724.4 320.9,723.7 320.0,723.0 319.2,722.2 318.4,721.5 317.7,720.7 317.0,719.9 316.4,719.1" stroke-width="5.6" stroke-linecap="butt" stroke-dasharray="2.5 0.9"/>
<polyline points="404.5,716.3 404.0,717.4 403.4,718.4 402.7,719.5 402.0,720.5 401.2,721.5 400.3,722.5 399.4,723.5 398.4,724.5 397.4,725.4 396.2,726.3 395.1,727.2 393.9,728.1 392.6,728.9 391.2,729.7 389.9,730.4 388.4,731.2 386.9,731.8 385.4,732.5 383.9,733.1 382.3,733.7 380.6,734.2 378.9,734.8 377.2,735.2 375.5,735.6 373.7,736.0 371.9,736.4 370.1,736.7 368.3,736.9 366.5,737.1 364.6,737.3 362.8,737.4 360.9,737.5 359.0,737.5 357.1,737.5 355.3,737.5 353.4,737.4 351.5,737.3 349.7,737.1 347.9,736.8 346.0,736.6 344.2,736.3 342.5,735.9 340.7,735.5 339.0,735.1 337.3,734.6 335.6,734.1 334.0,733.5 332.4,732.9 330.8,732.3 329.3,731.6 327.9,730.9 326.5,730.2 325.1,729.4 323.8,728.6 322.5,727.8 321.3,726.9 320.2,726.0 319.1,725.1 318.0,724.2 317.1,723.2" stroke-width="1.2"/>
<polyline points="326.4,701.8 325.9,701.3 324.9,700.7 323.9,700.2 323.4,699.5 323.7,698.8 324.5,698.2 325.3,697.5 325.7,696.9 325.4,696.3 324.6,695.6 323.9,694.9 323.6,694.2 324.2,693.6 325.2,693.1 326.3,692.6 326.8,692.0 326.8,691.4 326.2,690.6 325.8,689.8 325.8,689.1 326.5,688.6 327.7,688.2 329.0,687.9 329.7,687.4 329.9,686.8 329.7,686.0 329.5,685.1 329.8,684.4 330.7,684.0 332.0,683.9 333.3,683.7 334.2,683.4 334.6,682.8 334.7,682.0 334.8,681.1 335.4,680.5 336.4,680.3 337.7,680.3 339.0,680.4 340.0,680.2 340.6,679.7 341.0,678.9 341.5,678.1 342.2,677.6 343.3,677.5 344.6,677.7 345.8,678.0 346.9,677.9 347.7,677.5 348.3,676.8 349.1,676.1 350.0,675.7 351.1,675.8 352.2,676.2 353.3,676.6 354.3,676.8 355.3,676.5 356.2,675.9 357.2,675.3 358.2,675.1 359.2,675.3 360.2,675.9 361.1,676.5 362.0,676.8 363.1,676.6 364.2,676.2 365.3,675.8 366.4,675.7 367.3,676.1 368.1,676.8 368.7,677.5 369.5,677.9 370.6,678.0 371.8,677.7 373.1,677.5 374.2,677.6 374.9,678.1 375.4,678.9 375.7,679.7 376.4,680.2 377.4,680.4 378.7,680.3 380.0,680.3 381.0,680.5 381.6,681.1 381.7,682.0 381.8,682.8 382.2,683.4 383.1,683.7 384.4,683.9 385.7,684.0 386.6,684.4 386.9,685.1 386.7,686.0 386.5,686.8 386.7,687.4 387.4,687.9 388.6,688.2 389.9,688.6 390.6,689.1 390.6,689.8 390.1,690.6 389.6,691.4 389.6,692.0 390.1,692.6 391.2,693.1 392.2,693.6 392.8,694.2 392.5,694.9 391.8,695.6 391.0,696.3 390.7,696.9 391.0,697.5 391.9,698.2 392.7,698.8 393.0,699.5 392.5,700.2 391.5,700.7 390.5,701.3 390.0,701.8" stroke-width="1.9"/>
<polyline points="327.5,699.7 327.4,698.4 327.4,697.1 327.5,695.8 327.8,694.5 328.3,693.3 328.8,692.0 329.5,690.8 330.3,689.7 331.3,688.5 332.3,687.4 333.5,686.4 334.8,685.4 336.2,684.4 337.6,683.5 339.2,682.7 340.9,681.9 342.6,681.2 344.4,680.6 346.2,680.1 348.2,679.6 350.1,679.3 352.1,679.0 354.1,678.7 356.2,678.6 358.2,678.6 360.2,678.6 362.3,678.7 364.3,679.0 366.3,679.3 368.2,679.6 370.1,680.1 372.0,680.6 373.8,681.2 375.5,681.9 377.2,682.7 378.8,683.5 380.2,684.4 381.6,685.4 382.9,686.4 384.1,687.4 385.1,688.5 386.1,689.7 386.9,690.8 387.6,692.0 388.1,693.3 388.6,694.5 388.8,695.8 389.0,697.1 389.0,698.4 388.9,699.7" stroke-width="1.2"/>
<polyline points="389.4,700.5 389.4,707.3 390.0,708.1 391.5,708.1 392.1,707.3 392.1,700.5" stroke-width="1.7" fill="#fff"/>
<polyline points="387.1,702.9 387.1,711.0 387.7,711.8 389.7,711.8 390.2,711.0 390.2,702.9" stroke-width="1.7" fill="#fff"/>
<polyline points="383.7,705.1 383.7,714.4 384.3,715.2 386.7,715.2 387.3,714.4 387.3,705.1" stroke-width="1.7" fill="#fff"/>
<polyline points="379.4,707.0 379.4,717.4 379.9,718.2 382.7,718.2 383.3,717.4 383.3,707.0" stroke-width="1.7" fill="#fff"/>
<polyline points="381.9,708.9 381.9,717.0" stroke-width="1.6" stroke="#444"/>
<polyline points="374.2,708.5 374.2,719.8 374.8,720.6 377.9,720.6 378.4,719.8 378.4,708.5" stroke-width="1.7" fill="#fff"/>
<polyline points="377.0,710.4 377.0,719.4" stroke-width="1.6" stroke="#444"/>
<polyline points="368.4,709.6 368.4,721.6 369.0,722.4 372.3,722.4 372.9,721.6 372.9,709.6" stroke-width="1.7" fill="#fff"/>
<polyline points="371.3,711.6 371.3,721.2" stroke-width="1.6" stroke="#444"/>
<polyline points="362.2,710.3 362.2,722.7 362.8,723.5 366.3,723.5 366.8,722.7 366.8,710.3" stroke-width="1.7" fill="#fff"/>
<polyline points="365.2,712.3 365.2,722.3" stroke-width="1.6" stroke="#444"/>
<polyline points="355.9,710.6 355.9,723.1 356.5,723.9 359.9,723.9 360.5,723.1 360.5,710.6" stroke-width="1.7" fill="#111"/>
<polyline points="349.5,710.3 349.5,722.7 350.1,723.5 353.6,723.5 354.2,722.7 354.2,710.3" stroke-width="1.7" fill="#111"/>
<polyline points="343.5,709.6 343.5,721.6 344.1,722.4 347.4,722.4 348.0,721.6 348.0,709.6" stroke-width="1.7" fill="#fff"/>
<polyline points="346.4,711.6 346.4,721.2" stroke-width="1.6" stroke="#444"/>
<polyline points="337.9,708.5 337.9,719.8 338.5,720.6 341.6,720.6 342.2,719.8 342.2,708.5" stroke-width="1.7" fill="#fff"/>
<polyline points="340.7,710.4 340.7,719.4" stroke-width="1.6" stroke="#444"/>
<polyline points="333.1,707.0 333.1,717.4 333.7,718.2 336.5,718.2 337.0,717.4 337.0,707.0" stroke-width="1.7" fill="#fff"/>
<polyline points="335.7,708.9 335.7,717.0" stroke-width="1.6" stroke="#444"/>
<polyline points="329.1,705.1 329.1,714.4 329.7,715.2 332.1,715.2 332.7,714.4 332.7,705.1" stroke-width="1.7" fill="#fff"/>
<polyline points="326.1,702.9 326.1,711.0 326.7,711.8 328.7,711.8 329.3,711.0 329.3,702.9" stroke-width="1.7" fill="#fff"/>
<polyline points="324.3,700.5 324.3,707.3 324.9,708.1 326.4,708.1 327.0,707.3 327.0,700.5" stroke-width="1.7" fill="#fff"/>
<polyline points="391.7,697.5 391.6,698.3 391.4,699.1 391.1,699.9 390.6,700.7 390.0,701.5 389.3,702.3 388.5,703.1 387.5,703.8 386.4,704.5 385.3,705.2 384.0,705.8 382.6,706.5 381.1,707.0 379.5,707.6 377.9,708.1 376.1,708.5 374.3,709.0 372.4,709.3 370.5,709.7 368.5,709.9 366.5,710.2 364.5,710.4 362.4,710.5 360.3,710.6 358.2,710.6 356.1,710.6 354.0,710.5 351.9,710.4 349.9,710.2 347.9,709.9 345.9,709.7 343.9,709.3 342.1,709.0 340.3,708.5 338.5,708.1 336.9,707.6 335.3,707.0 333.8,706.5 332.4,705.8 331.1,705.2 329.9,704.5 328.9,703.8 327.9,703.1 327.1,702.3 326.4,701.5 325.8,700.7 325.3,699.9 325.0,699.1 324.8,698.3 324.7,697.5" stroke-width="1.5"/>
<polyline points="382.9,694.1 382.8,695.4 382.6,696.6 382.1,697.9 381.4,699.1 380.6,700.2 379.6,701.4 378.5,702.4 377.1,703.4 375.7,704.4 374.1,705.2 372.4,706.0 370.6,706.7 368.6,707.3 366.7,707.8 364.6,708.2 362.5,708.4 360.4,708.6 358.2,708.6 356.0,708.6 353.9,708.4 351.8,708.2 349.7,707.8 347.7,707.3 345.8,706.7 344.0,706.0 342.3,705.2 340.7,704.4 339.2,703.4 337.9,702.4 336.8,701.4 335.8,700.2 335.0,699.1 334.3,697.9 333.8,696.6 333.6,695.4 333.5,694.1 333.6,692.8 333.8,691.6 334.3,690.3 335.0,689.1 335.8,687.9 336.8,686.8 337.9,685.8 339.2,684.7 340.7,683.8 342.3,683.0 344.0,682.2 345.8,681.5 347.7,680.9 349.7,680.4 351.8,680.0 353.9,679.8 356.0,679.6 358.2,679.5 360.4,679.6 362.5,679.8 364.6,680.0 366.7,680.4 368.6,680.9 370.6,681.5 372.4,682.2 374.1,683.0 375.7,683.8 377.1,684.7 378.5,685.8 379.6,686.8 380.6,687.9 381.4,689.1 382.1,690.3 382.6,691.6 382.8,692.8 382.9,694.1" stroke-width="1.6"/>
<polyline points="335.9,695.1 336.3,694.5 336.8,693.9 337.3,693.3 338.0,692.7 338.8,692.2 339.6,691.7 340.6,691.2 341.6,690.7 342.7,690.3 343.9,689.8 345.1,689.5 346.4,689.1 347.7,688.8 349.1,688.6 350.6,688.3 352.1,688.1 353.6,688.0 355.1,687.9 356.6,687.8 358.2,687.8 359.7,687.8 361.3,687.9 362.8,688.0 364.3,688.1 365.8,688.3 367.2,688.6 368.7,688.8 370.0,689.1 371.3,689.5 372.5,689.8 373.7,690.3 374.8,690.7 375.8,691.2 376.8,691.7 377.6,692.2 378.4,692.7 379.1,693.3 379.6,693.9 380.1,694.5 380.5,695.1" stroke-width="1.4"/>
<polyline points="347.5,694.1 347.5,706.2 367.9,706.2 367.9,694.1" stroke-width="1.5" fill="#fff"/>
<polyline points="367.9,706.2 367.8,706.5 367.7,706.7 367.4,707.0 367.0,707.2 366.5,707.4 366.0,707.6 365.3,707.8 364.5,708.0 363.7,708.2 362.8,708.3 361.9,708.4 360.9,708.5 359.8,708.6 358.8,708.6 357.7,708.6 356.6,708.6 355.6,708.6 354.6,708.5 353.6,708.4 352.6,708.3 351.7,708.2 350.9,708.0 350.1,707.8 349.5,707.6 348.9,707.4 348.4,707.2 348.0,707.0 347.7,706.7 347.6,706.5 347.5,706.2" stroke-width="1.4"/>
<polyline points="348.9,696.8 348.5,696.4 348.2,696.0 347.9,695.5 347.7,695.1 347.6,694.7 347.5,694.2 347.5,693.8 347.6,693.3 347.8,692.9 348.0,692.4 348.3,692.0 348.7,691.6 349.1,691.2 349.6,690.9 350.1,690.5 350.7,690.2 351.4,689.9 352.1,689.7 352.8,689.4 353.6,689.2 354.4,689.1 355.2,688.9 356.0,688.8 356.9,688.8 357.7,688.8 358.6,688.8 359.4,688.8 360.2,688.9 361.1,689.1 361.9,689.2 362.6,689.4 363.3,689.7 364.0,689.9 364.7,690.2 365.3,690.5 365.8,690.9 366.3,691.2 366.7,691.6 367.1,692.0 367.4,692.4 367.6,692.9 367.8,693.3 367.9,693.8 367.9,694.2 367.8,694.7 367.7,695.1 367.5,695.5 367.3,696.0 366.9,696.4 366.5,696.8" stroke-width="1.8" fill="#fff"/>
<polyline points="365.5,697.0 365.4,697.4 365.3,697.8 365.1,698.1 364.8,698.5 364.5,698.9 364.1,699.2 363.6,699.5 363.1,699.7 362.5,700.0 361.8,700.2 361.2,700.4 360.4,700.5 359.7,700.6 359.0,700.7 358.2,700.7 357.4,700.7 356.7,700.6 355.9,700.5 355.2,700.4 354.6,700.2 353.9,700.0 353.3,699.7 352.8,699.5 352.3,699.2 351.9,698.9 351.6,698.5 351.3,698.1 351.1,697.8 351.0,697.4 350.9,697.0" stroke-width="1.6"/>
<polyline points="362.1,693.1 362.0,693.8 361.7,694.4 361.2,695.0 360.6,695.4 359.9,695.8 359.1,696.1 358.2,696.2 357.3,696.2 356.4,696.1 355.5,695.8 354.8,695.4 354.2,695.0 353.7,694.4 353.4,693.8 353.3,693.1 353.4,692.5 353.7,691.9 354.2,691.3 354.8,690.8 355.5,690.4 356.4,690.2 357.3,690.0 358.2,690.0 359.1,690.2 359.9,690.4 360.6,690.8 361.2,691.3 361.7,691.9 362.0,692.5 362.1,693.1" stroke-width="1.6" fill="#fff"/>
<polyline points="357.7,690.4 357.7,694.6" stroke-width="1.6"/>
<polygon points="803.7,402.8 803.6,404.3 803.2,405.8 802.6,407.3 801.8,408.8 800.8,410.2 799.6,411.5 798.2,412.8 796.5,414.0 794.7,415.2 792.8,416.2 790.7,417.1 788.4,417.9 786.1,418.6 783.6,419.2 781.1,419.7 778.5,420.0 775.8,420.2 773.2,420.3 770.5,420.2 767.9,420.0 765.3,419.7 762.7,419.2 760.3,418.6 757.9,417.9 755.6,417.1 753.5,416.2 751.6,415.2 749.8,414.0 748.2,412.8 746.7,411.5 745.5,410.2 744.5,408.8 743.7,407.3 743.1,405.8 742.7,404.3 742.6,402.8 742.7,401.3 743.1,399.8 743.7,398.3 744.5,396.8 745.5,395.4 746.7,394.1 748.2,392.8 749.8,391.6 751.6,390.5 753.5,389.4 755.6,388.5 757.9,387.7 760.3,387.0 762.7,386.4 765.3,385.9 767.9,385.6 770.5,385.4 773.2,385.3 775.8,385.4 778.5,385.6 781.1,385.9 783.6,386.4 786.1,387.0 788.4,387.7 790.7,388.5 792.8,389.4 794.7,390.5 796.5,391.6 798.2,392.8 799.6,394.1 800.8,395.4 801.8,396.8 802.6,398.3 803.2,399.8 803.6,401.3 803.7,402.8" stroke-width="2.0" fill="#fff"/>
<polyline points="803.4,408.5 803.0,409.7 802.5,410.9 801.8,412.1 801.0,413.3 800.0,414.4 798.9,415.5 797.6,416.5 796.3,417.5 794.8,418.4 793.2,419.2 791.5,420.0 789.7,420.7 787.8,421.4 785.9,421.9 783.8,422.4 781.8,422.8 779.7,423.1 777.5,423.3 775.3,423.5 773.2,423.5 771.0,423.5 768.8,423.3 766.7,423.1 764.5,422.8 762.5,422.4 760.5,421.9 758.5,421.4 756.6,420.7 754.8,420.0 753.1,419.2 751.5,418.4 750.0,417.5 748.7,416.5 747.4,415.5 746.3,414.4 745.4,413.3 744.5,412.1 743.8,410.9 743.3,409.7 742.9,408.5" stroke-width="1.4"/>
<polyline points="802.1,408.3 802.1,411.6" stroke-width="1.1"/>
<polyline points="800.8,410.3 800.8,413.5" stroke-width="1.1"/>
<polyline points="799.0,412.1 799.0,415.3" stroke-width="1.1"/>
<polyline points="796.9,413.8 796.9,417.0" stroke-width="1.1"/>
<polyline points="794.5,415.3 794.5,418.5" stroke-width="1.1"/>
<polyline points="791.7,416.7 791.7,419.9" stroke-width="1.1"/>
<polyline points="788.7,417.8 788.7,421.1" stroke-width="1.1"/>
<polyline points="785.5,418.8 785.5,422.0" stroke-width="1.1"/>
<polyline points="782.1,419.5 782.1,422.7" stroke-width="1.1"/>
<polyline points="778.6,420.0 778.6,423.2" stroke-width="1.1"/>
<polyline points="775.0,420.2 775.0,423.5" stroke-width="1.1"/>
<polyline points="771.3,420.2 771.3,423.5" stroke-width="1.1"/>
<polyline points="767.7,420.0 767.7,423.2" stroke-width="1.1"/>
<polyline points="764.2,419.5 764.2,422.7" stroke-width="1.1"/>
<polyline points="760.8,418.8 760.8,422.0" stroke-width="1.1"/>
<polyline points="757.6,417.8 757.6,421.1" stroke-width="1.1"/>
<polyline points="754.6,416.7 754.6,419.9" stroke-width="1.1"/>
<polyline points="751.8,415.3 751.8,418.5" stroke-width="1.1"/>
<polyline points="749.4,413.8 749.4,417.0" stroke-width="1.1"/>
<polyline points="747.3,412.1 747.3,415.3" stroke-width="1.1"/>
<polyline points="745.5,410.3 745.5,413.5" stroke-width="1.1"/>
<polyline points="744.2,408.3 744.2,411.6" stroke-width="1.1"/>
<polygon points="796.1,404.5 796.0,405.5 795.8,406.5 795.4,407.5 795.0,408.5 794.4,409.4 793.6,410.4 792.8,411.3 791.8,412.1 790.7,412.9 789.5,413.6 788.3,414.3 786.9,415.0 785.4,415.5 783.9,416.0 782.3,416.4 780.7,416.8 779.0,417.1 777.3,417.3 775.6,417.4 773.8,417.4 772.1,417.4 770.3,417.3 768.6,417.1 766.9,416.8 765.3,416.4 763.7,416.0 762.2,415.5 760.7,415.0 759.4,414.3 758.1,413.6 756.9,412.9 755.8,412.1 754.8,411.3 754.0,410.4 753.3,409.4 752.6,408.5 752.2,407.5 751.8,406.5 751.6,405.5 751.6,404.5 751.6,395.7 751.6,395.7 751.6,394.7 751.8,393.7 752.2,392.7 752.6,391.7 753.3,390.7 754.0,389.8 754.8,388.9 755.8,388.1 756.9,387.3 758.1,386.5 759.4,385.9 760.7,385.2 762.2,384.7 763.7,384.2 765.3,383.7 766.9,383.4 768.6,383.1 770.3,382.9 772.1,382.8 773.8,382.8 775.6,382.8 777.3,382.9 779.0,383.1 780.7,383.4 782.3,383.7 783.9,384.2 785.4,384.7 786.9,385.2 788.3,385.9 789.5,386.5 790.7,387.3 791.8,388.1 792.8,388.9 793.6,389.8 794.4,390.7 795.0,391.7 795.4,392.7 795.8,393.7 796.0,394.7 796.1,395.7 796.1,404.5" stroke-width="2.0" fill="#fff"/>
<polyline points="796.1,395.7 796.0,396.7 795.8,397.7 795.4,398.7 795.0,399.7 794.4,400.6 793.6,401.6 792.8,402.5 791.8,403.3 790.7,404.1 789.5,404.8 788.3,405.5 786.9,406.2 785.4,406.7 783.9,407.2 782.3,407.6 780.7,408.0 779.0,408.3 777.3,408.5 775.6,408.6 773.8,408.6 772.1,408.6 770.3,408.5 768.6,408.3 766.9,408.0 765.3,407.6 763.7,407.2 762.2,406.7 760.7,406.2 759.4,405.5 758.1,404.8 756.9,404.1 755.8,403.3 754.8,402.5 754.0,401.6 753.3,400.6 752.6,399.7 752.2,398.7 751.8,397.7 751.6,396.7 751.6,395.7" stroke-width="1.5"/>
<polyline points="794.8,401.0 794.8,408.7" stroke-width="1.5"/>
<polyline points="792.4,403.8 792.4,411.6" stroke-width="1.5"/>
<polyline points="788.8,406.3 788.8,414.0" stroke-width="1.5"/>
<polyline points="784.4,408.1 784.4,415.9" stroke-width="1.5"/>
<polyline points="779.3,409.3 779.3,417.0" stroke-width="1.5"/>
<polyline points="773.8,409.7 773.8,417.4" stroke-width="1.5"/>
<polyline points="768.4,409.3 768.4,417.0" stroke-width="1.5"/>
<polyline points="763.2,408.1 763.2,415.9" stroke-width="1.5"/>
<polyline points="758.8,406.3 758.8,414.0" stroke-width="1.5"/>
<polyline points="755.2,403.8 755.2,411.6" stroke-width="1.5"/>
<polyline points="752.8,401.0 752.8,408.7" stroke-width="1.5"/>
<polyline points="790.6,394.4 790.5,395.6 790.0,396.8 789.3,398.0 788.4,399.1 787.1,400.1 785.7,401.0 784.0,401.8 782.2,402.5 780.2,403.0 778.2,403.4 776.0,403.6 773.8,403.7 771.6,403.6 769.5,403.4 767.4,403.0 765.4,402.5 763.6,401.8 761.9,401.0 760.5,400.1 759.2,399.1 758.3,398.0 757.6,396.8 757.1,395.6 757.0,394.4 757.1,393.2 757.6,392.0 758.3,390.8 759.2,389.7 760.5,388.7 761.9,387.8 763.6,387.0 765.4,386.3 767.4,385.8 769.5,385.4 771.6,385.2 773.8,385.1 776.0,385.2 778.2,385.4 780.2,385.8 782.2,386.3 784.0,387.0 785.7,387.8 787.1,388.7 788.4,389.7 789.3,390.8 790.0,392.0 790.5,393.2 790.6,394.4" stroke-width="1.3"/>
<polyline points="783.9,398.9 783.8,399.7 783.6,400.5 783.1,401.2 782.5,401.9 781.8,402.6 780.9,403.1 779.9,403.7 778.8,404.1 777.7,404.4 776.4,404.7 775.1,404.8 773.8,404.9 772.5,404.8 771.2,404.7 769.9,404.4 768.8,404.1 767.7,403.7 766.7,403.1 765.8,402.6 765.1,401.9 764.5,401.2 764.1,400.5 763.8,399.7 763.7,398.9 763.8,398.2 764.1,397.4 764.5,396.7 765.1,396.0 765.8,395.3 766.7,394.7 767.7,394.2 768.8,393.8 769.9,393.4 771.2,393.2 772.5,393.0 773.8,393.0 775.1,393.0 776.4,393.2 777.7,393.4 778.8,393.8 779.9,394.2 780.9,394.7 781.8,395.3 782.5,396.0 783.1,396.7 783.6,397.4 783.8,398.2 783.9,398.9" stroke-width="3.0"/>
<polygon points="816.5,461.0 816.4,462.2 816.1,463.4 815.7,464.5 815.1,465.7 814.3,466.8 813.4,467.8 812.3,468.8 811.0,469.7 809.7,470.6 808.2,471.4 806.6,472.1 804.8,472.8 803.0,473.3 801.2,473.8 799.2,474.1 797.3,474.4 795.2,474.5 793.2,474.6 791.2,474.5 789.2,474.4 787.2,474.1 785.2,473.8 783.4,473.3 781.6,472.8 779.9,472.1 778.2,471.4 776.7,470.6 775.4,469.7 774.1,468.8 773.0,467.8 772.1,466.8 771.3,465.7 770.7,464.5 770.3,463.4 770.0,462.2 769.9,461.0 770.0,459.8 770.3,458.7 770.7,457.5 771.3,456.4 772.1,455.3 773.0,454.2 774.1,453.2 775.4,452.3 776.7,451.4 778.2,450.6 779.9,449.9 781.6,449.3 783.4,448.7 785.2,448.3 787.2,447.9 789.2,447.6 791.2,447.5 793.2,447.4 795.2,447.5 797.3,447.6 799.2,447.9 801.2,448.3 803.0,448.7 804.8,449.3 806.6,449.9 808.2,450.6 809.7,451.4 811.0,452.3 812.3,453.2 813.4,454.2 814.3,455.3 815.1,456.4 815.7,457.5 816.1,458.7 816.4,459.8 816.5,461.0" stroke-width="1.8" fill="#fff"/>
<polyline points="816.3,465.9 816.0,466.8 815.6,467.8 815.0,468.7 814.4,469.6 813.7,470.5 812.8,471.3 811.9,472.1 810.8,472.9 809.7,473.6 808.5,474.2 807.2,474.9 805.8,475.4 804.4,475.9 802.9,476.3 801.4,476.7 799.8,477.0 798.2,477.3 796.5,477.4 794.9,477.5 793.2,477.6 791.5,477.5 789.9,477.4 788.2,477.3 786.6,477.0 785.1,476.7 783.5,476.3 782.0,475.9 780.6,475.4 779.2,474.9 777.9,474.2 776.7,473.6 775.6,472.9 774.5,472.1 773.6,471.3 772.7,470.5 772.0,469.6 771.4,468.7 770.8,467.8 770.4,466.8 770.2,465.9" stroke-width="1.3"/>
<polyline points="815.3,465.4 815.3,468.2" stroke-width="1.0"/>
<polyline points="814.1,467.0 814.1,469.9" stroke-width="1.0"/>
<polyline points="812.6,468.6 812.6,471.4" stroke-width="1.0"/>
<polyline points="810.7,470.0 810.7,472.8" stroke-width="1.0"/>
<polyline points="808.6,471.2 808.6,474.1" stroke-width="1.0"/>
<polyline points="806.1,472.3 806.1,475.2" stroke-width="1.0"/>
<polyline points="803.5,473.2 803.5,476.0" stroke-width="1.0"/>
<polyline points="800.7,473.9 800.7,476.7" stroke-width="1.0"/>
<polyline points="797.7,474.3 797.7,477.2" stroke-width="1.0"/>
<polyline points="794.7,474.6 794.7,477.4" stroke-width="1.0"/>
<polyline points="791.7,474.6 791.7,477.4" stroke-width="1.0"/>
<polyline points="788.7,474.3 788.7,477.2" stroke-width="1.0"/>
<polyline points="785.7,473.9 785.7,476.7" stroke-width="1.0"/>
<polyline points="782.9,473.2 782.9,476.0" stroke-width="1.0"/>
<polyline points="780.3,472.3 780.3,475.2" stroke-width="1.0"/>
<polyline points="777.9,471.2 777.9,474.1" stroke-width="1.0"/>
<polyline points="775.7,470.0 775.7,472.8" stroke-width="1.0"/>
<polyline points="773.8,468.6 773.8,471.4" stroke-width="1.0"/>
<polyline points="772.3,467.0 772.3,469.9" stroke-width="1.0"/>
<polyline points="771.2,465.4 771.2,468.2" stroke-width="1.0"/>
<polygon points="784.8,453.9 784.8,461.7 789.3,464.9 797.1,464.9 802.0,461.7 802.0,453.9" stroke-width="2.04" fill="#fff"/>
<ellipse cx="793.3" cy="453.6" rx="8.5" ry="4.4" stroke-width="2.04" fill="#fff"/>
<polyline points="788.0,459.1 788.0,464.3" stroke-width="1.44"/>
<polyline points="791.9,459.7 791.9,465.0" stroke-width="1.44"/>
<polyline points="795.8,459.7 795.8,465.0" stroke-width="1.44"/>
<polyline points="799.4,458.8 799.4,463.7" stroke-width="1.44"/>
<ellipse cx="813.3" cy="509.5" rx="19.7" ry="12.3" stroke-width="2.88" fill="#fff"/>
<ellipse cx="813.3" cy="506.9" rx="19.4" ry="11.9" stroke-width="2.88" fill="#fff"/>
<ellipse cx="813.3" cy="505.0" rx="14.5" ry="8.8" stroke-width="1.68"/>
<path d="M793.9 512.1 C794.8 513.6 796.4 519.1 799.7 521.2 C802.9 523.2 808.7 524.4 813.3 524.4 C817.8 524.4 823.6 523.2 826.8 521.2 C830.1 519.1 831.9 513.6 832.9 512.1" stroke-width="1.68"/>
<polygon points="808.1,496.6 808.1,507.6 812.6,508.9 817.8,507.2 817.8,496.6" stroke-width="1.92" fill="#fff"/>
<ellipse cx="812.9" cy="496.6" rx="4.9" ry="2.3" stroke-width="1.92" fill="#fff"/>
<polyline points="810.7,498.5 810.7,508.2" stroke-width="1.32"/>
<polyline points="813.3,498.9 813.3,508.7" stroke-width="1.32"/>
<polyline points="815.5,498.5 815.5,508.2" stroke-width="1.32"/>
<polyline points="773.2,423.1 773.2,447.4" stroke-width="1.56"/>
<polyline points="773.3,473.3 773.3,572.6" stroke-width="1.20" stroke-dasharray="26 4 3 4"/>
<polyline points="792.6,477.4 792.6,662.0" stroke-width="1.20" stroke-dasharray="26 4 3 4"/>
<polyline points="813.5,527.6 813.5,671.0" stroke-width="1.20" stroke-dasharray="26 4 3 4"/>
<polyline points="804.2,398.9 846.9,398.9" stroke-width="1.32"/>
<polyline points="811.3,449.4 847.5,424.2" stroke-width="1.32"/>
<polyline points="824.3,522.5 855.9,551.6" stroke-width="1.32"/>
<path d="M812.2 493.4 C812.5 491.3 812.1 484.2 813.9 481.1 C815.7 477.9 819.7 475.8 823.0 474.6 C826.2 473.4 830.5 473.3 833.3 474.0 C836.1 474.6 838.7 477.7 839.8 478.5" stroke-width="1.32"/>
<path d="M838.1 481.1 C839.0 482.5 841.6 487.7 843.9 489.5 C846.1 491.3 849.1 492.2 851.6 492.1 C854.2 492.0 857.2 490.0 859.4 488.9 C861.6 487.7 863.7 485.6 864.6 485.0" stroke-width="1.32"/>
<path d="M852.9 468.8 C853.6 467.2 854.4 461.7 856.8 459.1 C859.2 456.5 863.5 454.4 867.2 453.3 C870.8 452.1 874.7 451.6 878.8 452.2 C882.9 452.9 885.3 453.8 891.7 457.2 C898.2 460.6 912.0 468.7 917.6 472.7 C923.3 476.7 924.2 478.5 925.6 481.1 C927.1 483.7 927.5 485.8 926.4 488.2 C925.3 490.6 922.5 493.5 918.9 495.3 C915.3 497.2 909.4 499.2 904.7 499.2 C899.9 499.2 897.3 498.4 890.4 495.3 C883.5 492.2 869.3 484.0 863.3 480.4 C857.2 476.9 856.0 475.9 854.2 474.0 C852.5 472.0 853.2 469.7 852.9 468.8" stroke-width="1.80"/>
<path d="M856.6 468.8 C857.2 467.5 858.7 463.0 860.7 461.0 C862.7 459.1 865.4 457.8 868.5 456.9 C871.5 456.0 875.1 455.3 878.8 455.9 C882.5 456.5 884.2 457.1 890.4 460.4 C896.7 463.7 910.9 471.9 916.3 475.5 C921.7 479.2 921.7 480.4 922.8 482.4 C923.9 484.4 923.8 485.9 922.8 487.6 C921.8 489.2 920.0 491.1 917.0 492.3 C913.9 493.6 908.9 495.4 904.7 495.3 C900.5 495.2 898.2 494.8 891.7 491.8 C885.3 488.9 871.5 480.8 865.9 477.6 C860.3 474.4 859.7 474.2 858.1 472.7 C856.6 471.2 856.8 469.5 856.6 468.8" stroke-width="1.56"/>
<path d="M859.7 467.8 C860.6 466.6 862.0 462.2 865.2 460.8 C868.4 459.4 874.8 458.9 878.8 459.2 C882.8 459.6 883.1 459.8 889.2 463.0 C895.2 466.2 909.9 474.9 915.0 478.5 C920.2 482.1 919.5 482.5 919.9 484.3 C920.3 486.2 919.9 488.3 917.4 489.5 C914.8 490.8 908.9 492.0 904.7 491.8 C900.4 491.6 897.8 491.1 891.7 488.2 C885.7 485.3 873.8 478.0 868.5 474.6 C863.1 471.2 861.1 468.9 859.7 467.8" stroke-width="1.68"/>
<polyline points="869.8,466.9 869.1,474.0" stroke-width="1.32"/>
<polyline points="911.1,484.3 911.1,491.4" stroke-width="1.32"/>
<polyline points="915.7,468.2 946.7,453.9" stroke-width="1.32"/>
<path d="M911.8 502.4 C911.8 506.5 912.1 518.6 911.8 527.0 C911.5 535.4 910.8 545.3 909.8 552.9 C908.9 560.4 908.1 566.9 906.0 572.3 C903.8 577.7 899.9 581.6 896.9 585.2 C893.9 588.9 890.2 590.4 887.9 594.3 C885.5 598.2 883.9 601.4 882.7 608.5 C881.4 615.6 880.8 621.9 880.4 637.0 C879.9 652.0 879.9 688.7 879.8 699.0" stroke-width="1.14" stroke-dasharray="22 4 3 4"/>
<polyline points="705.8,633.5 705.8,650.3 723.3,660.0 725.9,658.3" stroke-width="2.04"/>
<polyline points="705.8,633.5 750.4,609.9" stroke-width="2.04"/>
<polyline points="709.7,635.4 709.7,647.1 723.9,654.8 742.0,644.5" stroke-width="1.56"/>
<polyline points="709.7,635.4 749.8,614.1" stroke-width="1.56"/>
<polyline points="725.9,658.3 725.9,680.7 731.7,683.9 731.7,690.4 747.9,700.0" stroke-width="2.04"/>
<polyline points="725.9,658.3 734.9,653.5 734.9,667.1 738.8,667.1 742.7,663.9 742.7,644.5 751.7,645.8 762.1,639.9" stroke-width="1.68"/>
<polyline points="727.8,659.3 727.8,680.0" stroke-width="1.68"/>
<polyline points="738.8,667.1 795.1,700.0" stroke-width="1.68"/>
<polygon points="717.5,632.2 726.5,627.0 732.3,630.2 723.3,635.4" stroke-width="1.68"/>
<polyline points="723.3,635.4 723.5,637.4 732.3,632.2 732.3,630.2" stroke-width="1.68"/>
<polyline points="748.5,607.6 748.5,585.6 756.3,580.4 759.5,581.7 759.5,610.2" stroke-width="1.92"/>
<polyline points="751.1,587.6 751.1,607.6" stroke-width="1.44"/>
<polyline points="748.5,585.6 751.1,587.6 758.9,582.4" stroke-width="1.44"/>
<polyline points="748.5,607.6 751.7,614.1 759.5,610.2" stroke-width="1.80"/>
<polyline points="747.9,614.7 756.9,610.2 760.8,612.8 753.3,619.3 747.9,614.7" stroke-width="1.80"/>
<polyline points="753.3,619.3 753.3,621.2 760.8,614.7 760.8,612.8" stroke-width="1.80"/>
<polyline points="759.5,607.6 769.8,601.8" stroke-width="1.80"/>
<polyline points="755.6,619.3 755.6,634.8 762.1,638.7" stroke-width="1.80"/>
<polyline points="756.9,628.3 760.8,626.4 772.4,632.2" stroke-width="1.80"/>
<polygon points="760.1,629.9 771.8,633.7 771.8,638.9 760.1,636.3" stroke-width="1.80" fill="#111"/>
<polygon points="769.2,664.5 769.2,573.3 772.4,570.4 777.6,567.8 783.4,569.8 785.4,572.7 785.4,581.7 780.8,586.9 780.8,669.1 775.0,667.1" stroke-width="1.92" fill="#fff"/>
<polyline points="774.4,574.6 774.4,667.1" stroke-width="1.92"/>
<polyline points="777.6,585.9 777.6,668.4" stroke-width="1.92"/>
<polyline points="769.2,573.3 774.4,574.6 777.6,585.9" stroke-width="1.92"/>
<polygon points="779.2,569.5 782.8,570.4 783.8,583.7 780.8,586.5" stroke-width="1.92" fill="#111"/>
<polygon points="776.1,637.4 779.2,637.4 779.2,667.4 776.1,666.5" stroke-width="1.92" fill="#111"/>
<polyline points="772.4,637.4 772.4,665.6" stroke-width="1.92"/>
<polyline points="770.5,664.5 780.2,669.7 786.4,665.6" stroke-width="1.92"/>
<path d="M780.8 605.7 C781.5 605.1 784.0 604.7 784.7 602.4 C785.5 600.2 785.3 595.5 785.4 592.1 C785.5 588.6 785.4 583.5 785.4 581.7" stroke-width="1.92"/>
<polygon points="798.3,558.7 798.3,588.2 804.1,591.1 809.9,588.2 809.9,558.7" stroke-width="1.80" fill="#fff"/>
<path d="M798.3 588.2 C799.3 588.7 802.2 591.1 804.1 591.1 C806.1 591.1 809.0 588.7 809.9 588.2" stroke-width="1.80"/>
<ellipse cx="804.1" cy="558.7" rx="5.8" ry="2.1" stroke-width="1.80" fill="#fff"/>
<polygon points="801.2,546.2 801.2,558.7 806.3,558.7 806.3,546.2" stroke-width="1.80" fill="#fff"/>
<ellipse cx="803.7" cy="545.8" rx="2.6" ry="1.2" stroke-width="1.80" fill="#fff"/>
<path d="M801.2 558.7 C801.6 558.9 802.9 560.0 803.7 560.0 C804.6 560.0 805.9 558.9 806.3 558.7" stroke-width="1.80"/>
<polygon points="782.8,607.6 800.2,618.6 830.6,603.1 835.2,606.3 835.2,620.5 802.2,638.0 800.2,635.0 782.8,627.7" stroke-width="1.80" fill="#fff"/>
<polyline points="782.8,607.6 800.2,618.6 830.6,603.1" stroke-width="1.80"/>
<polyline points="800.2,618.6 800.2,635.0" stroke-width="1.80"/>
<polyline points="830.6,603.1 830.6,618.0 800.2,635.0" stroke-width="1.80"/>
<polyline points="835.2,605.0 850.7,597.3" stroke-width="1.56"/>
<polyline points="835.2,620.5 835.2,637.4 829.3,633.5 829.3,629.6" stroke-width="1.56"/>
<polyline points="835.2,637.4 855.2,625.7" stroke-width="1.56"/>
<polyline points="813.8,586.9 826.1,580.4" stroke-width="1.56"/>
<polyline points="785.4,593.4 793.1,588.9" stroke-width="1.56"/>
<polyline points="777.6,628.3 809.9,647.1" stroke-width="2.40"/>
<polyline points="777.6,632.8 807.4,650.9" stroke-width="1.56"/>
<polyline points="782.8,639.9 790.5,645.1" stroke-width="1.56"/>
<polyline points="782.8,627.7 782.8,633.5" stroke-width="1.56"/>
<polyline points="808.7,637.4 808.7,659.3" stroke-width="1.80"/>
<polyline points="812.5,637.4 812.5,660.6" stroke-width="1.80"/>
<polyline points="808.7,659.3 824.2,659.3" stroke-width="1.80"/>
<polygon points="800.9,650.9 806.1,652.2 807.4,655.5 802.2,654.8" stroke-width="1.80" fill="#111"/>
<ellipse cx="786.7" cy="643.8" rx="2.3" ry="1.6" stroke-width="1.80"/>
<polygon points="789.9,663.9 789.9,682.6 793.4,684.6 797.0,682.6 797.0,663.9" stroke-width="1.80" fill="#fff"/>
<ellipse cx="793.4" cy="663.2" rx="3.6" ry="1.7" stroke-width="1.80" fill="#fff"/>
<polygon points="809.9,673.6 809.9,689.7 817.1,689.7 817.1,673.6" stroke-width="1.80" fill="#fff"/>
<polygon points="808.0,672.5 813.2,670.2 817.4,672.5 813.2,674.4" stroke-width="1.80" fill="#111"/>
<ellipse cx="813.2" cy="692.5" rx="6.1" ry="3.1" stroke-width="1.80" fill="#fff"/>
<polygon points="809.9,678.8 809.9,690.4 817.1,690.4 817.1,678.8" stroke-width="1.80" fill="#fff"/>
<polyline points="809.9,673.6 809.9,690.4" stroke-width="1.80"/>
<polyline points="817.1,673.6 817.1,690.4" stroke-width="1.80"/>
<polyline points="831.4,627.8 835.9,631.0 835.9,636.9 856.0,625.6" stroke-width="1.68"/>
<polygon points="821.7,638.8 821.7,658.9 824.5,660.5 827.5,658.9 827.5,638.8" stroke-width="1.68" fill="#fff"/>
<ellipse cx="824.5" cy="638.4" rx="2.8" ry="1.3" stroke-width="1.68" fill="#fff"/>
<polyline points="808.1,637.5 808.1,660.8" stroke-width="1.68"/>
<polyline points="812.0,638.8 812.0,659.5" stroke-width="1.68"/>
<polyline points="827.5,654.3 863.7,675.7" stroke-width="2.16"/>
<polyline points="828.8,658.9 860.5,677.6" stroke-width="1.56"/>
<polyline points="830.1,670.5 837.2,666.4 862.4,680.6 857.3,689.3 830.1,670.5" stroke-width="1.56"/>
<polyline points="834.6,671.8 838.5,669.8 841.7,672.8 837.6,675.0 834.6,671.8" stroke-width="1.56"/>
<polyline points="833.3,675.0 857.9,689.3" stroke-width="1.56"/>
<polyline points="827.5,677.6 830.1,680.8 825.6,684.1" stroke-width="1.56"/>
<polyline points="819.8,678.9 856.6,702.8 867.6,699.6" stroke-width="1.56"/>
<polygon points="866.3,672.4 876.0,666.6 879.5,668.6 879.5,693.4 867.9,699.9" stroke-width="2.04" fill="#fff"/>
<polyline points="867.9,673.1 867.9,699.9" stroke-width="2.04"/>
<polyline points="866.3,672.4 867.9,673.1 879.5,668.6" stroke-width="2.04"/>
<polyline points="863.7,675.7 866.6,672.7" stroke-width="2.04"/>
<path d="M885.1 692.1 C886.9 692.2 892.5 691.6 896.1 692.5 C899.6 693.4 902.9 695.4 906.4 697.7 C910.0 699.9 914.5 702.9 917.4 706.1 C920.3 709.2 922.6 713.4 923.9 716.4 C925.2 719.4 925.0 722.9 925.2 724.2" stroke-width="1.68"/>
<ellipse cx="879.3" cy="717.1" rx="11.9" ry="6.0" stroke-width="1.80" fill="#fff"/>
<ellipse cx="880.5" cy="712.3" rx="8.0" ry="3.9" stroke-width="1.80" fill="#fff"/>
<ellipse cx="880.5" cy="708.4" rx="9.8" ry="4.7" stroke-width="1.80" fill="#fff"/>
<polygon points="876.7,702.8 876.7,707.6 884.4,707.6 884.4,702.8" stroke-width="1.80" fill="#fff"/>
<ellipse cx="880.5" cy="703.1" rx="3.9" ry="1.8" stroke-width="1.80" fill="#fff"/>
<polyline points="876.7,703.5 876.7,707.6" stroke-width="1.80"/>
<polyline points="884.4,703.5 884.4,707.6" stroke-width="1.80"/>
<polygon points="889.6,714.5 895.4,716.2 920.6,723.5 923.2,724.8 923.2,734.5 918.1,737.1 917.4,727.4 898.0,720.9 892.2,726.5 883.1,724.4" stroke-width="1.92" fill="#fff"/>
<polyline points="895.4,716.2 893.5,719.6 917.4,727.4" stroke-width="1.92"/>
<polygon points="909.0,699.6 918.1,694.4 922.2,696.4 922.2,707.4 914.2,712.5 909.6,710.6" stroke-width="1.92" fill="#fff"/>
<polyline points="909.0,699.6 913.5,702.2 922.2,696.4" stroke-width="1.92"/>
<polyline points="913.5,702.2 914.2,712.5" stroke-width="1.92"/>
<ellipse cx="834.2" cy="714.9" rx="2.8" ry="1.8" stroke-width="1.44"/>
<polygon points="843.0,712.8 850.1,712.8 850.1,722.2 843.0,722.2" stroke-width="1.44"/>
<ellipse cx="859.5" cy="712.5" rx="2.8" ry="1.8" stroke-width="1.44"/>
<polyline points="790.0,698.6 839.8,726.1" stroke-width="1.68"/>
<path d="M839.8 726.1 C840.6 727.3 841.8 731.1 844.3 733.2 C846.8 735.4 851.0 737.6 854.7 739.1 C858.3 740.5 864.4 741.2 866.3 741.6" stroke-width="1.68"/>
<polyline points="866.3,741.6 889.6,753.3" stroke-width="1.68"/>
<polyline points="839.8,726.1 839.8,766.2" stroke-width="1.68"/>
<polyline points="866.3,741.6 866.3,765.6 872.8,770.0" stroke-width="1.68"/>
<polyline points="790.0,721.8 839.8,750.7" stroke-width="1.92"/>
<polyline points="904.5,740.3 909.0,742.3 909.0,737.1 905.1,735.2 906.4,731.9 911.6,734.5 911.6,730.6" stroke-width="1.56"/>
<polyline points="933.6,722.9 938.8,719.6 942.6,721.6 936.2,725.5 933.6,722.9" stroke-width="1.56"/>
<polygon points="888.8,752.8 902.4,745.0 903.0,761.6" stroke-width="1.92"/>
<polyline points="903.7,747.4 949.6,720.5" stroke-width="1.92"/>
<polyline points="903.0,761.6 905.0,764.8 922.4,755.8 923.1,792.6" stroke-width="1.92"/>
<polyline points="907.6,764.8 907.9,790.0" stroke-width="1.56"/>
<polyline points="911.4,766.1 911.8,788.8" stroke-width="1.56"/>
<polyline points="907.9,790.0 912.1,788.8 923.1,794.6" stroke-width="1.80"/>
<polyline points="923.1,792.6 950.2,777.8" stroke-width="1.80"/>
<polyline points="866.2,742.2 866.2,766.1 908.2,790.7" stroke-width="1.80"/>
<path d="M850.0 774.5 C851.7 775.7 856.5 780.1 860.3 781.6 C864.2 783.2 868.5 783.9 873.3 783.8 C878.0 783.8 886.2 781.7 888.8 781.2" stroke-width="1.80"/>
<polygon points="866.8,672.1 876.9,666.5 880.4,668.5 880.7,691.7 868.4,698.5" stroke-width="1.92" fill="#fff"/>
<polyline points="868.4,673.0 868.8,698.2" stroke-width="1.92"/>
<polyline points="866.8,672.1 868.4,673.0 880.4,668.5" stroke-width="1.92"/>
<polyline points="850.0,665.9 866.8,676.5" stroke-width="1.56"/>
<polyline points="850.0,678.8 862.9,682.7 866.8,680.1" stroke-width="1.56"/>
<polyline points="850.0,694.3 857.8,698.9 866.8,694.3" stroke-width="1.56"/>
<polygon points="950.2,704.7 950.2,778.4 957.6,781.6 957.6,738.3 961.9,736.4 961.9,704.7" stroke-width="2.04" fill="#fff"/>
<polyline points="952.8,738.3 952.8,779.1" stroke-width="2.04"/>
<polyline points="950.2,735.7 952.8,738.3 957.6,738.3" stroke-width="2.04"/>
<polygon points="950.9,704.7 950.9,735.7 956.3,738.6 961.9,735.7 961.9,704.7" stroke-width="2.04" fill="#fff"/>
<ellipse cx="956.3" cy="704.7" rx="5.4" ry="2.1" stroke-width="2.04" fill="#fff"/>
<polygon points="954.1,691.7 954.1,704.7 959.3,704.7 959.3,691.7" stroke-width="2.04" fill="#fff"/>
<ellipse cx="956.7" cy="691.5" rx="2.6" ry="1.2" stroke-width="2.04" fill="#fff"/>
<polygon points="963.2,686.6 971.6,680.7 972.2,722.8 964.5,726.9" stroke-width="1.80" fill="#fff"/>
<polyline points="965.1,687.6 965.5,725.6" stroke-width="1.80"/>
<polygon points="975.5,689.2 975.5,720.2 981.3,723.0 987.1,720.2 987.1,689.2" stroke-width="1.80" fill="#fff"/>
<ellipse cx="981.3" cy="689.2" rx="5.8" ry="2.6" stroke-width="1.80" fill="#fff"/>
<ellipse cx="981.3" cy="689.8" rx="2.3" ry="1.2" stroke-width="2.64"/>
<polygon points="1000.7,676.2 1000.7,704.7 1005.2,707.5 1011.7,706.0 1011.7,676.2" stroke-width="1.80" fill="#fff"/>
<ellipse cx="1006.3" cy="676.2" rx="5.4" ry="2.1" stroke-width="1.80" fill="#fff"/>
<polygon points="1003.9,663.3 1003.9,676.2 1008.6,676.2 1008.6,663.3" stroke-width="1.80" fill="#fff"/>
<ellipse cx="1006.3" cy="663.0" rx="2.3" ry="1.0" stroke-width="1.80" fill="#fff"/>
<polyline points="961.9,736.4 1017.2,704.9 1017.9,706.7 1017.9,734.9 987.6,752.1 987.8,788.8" stroke-width="2.04"/>
<polyline points="988.1,692.3 1000.0,685.7" stroke-width="1.68"/>
<polyline points="957.6,781.6 966.4,776.5 967.1,777.1 967.1,801.0" stroke-width="1.68"/>
<polyline points="963.8,778.4 964.5,800.4" stroke-width="1.68"/>
<polygon points="958.7,806.9 967.1,801.4 987.8,788.8 1003.9,798.8 1003.9,806.9 984.5,819.8 974.8,820.4 958.7,810.7" stroke-width="2.04" fill="#fff"/>
<polyline points="958.7,806.9 975.5,816.6 984.5,816.2 1003.9,803.2" stroke-width="2.04"/>
<polyline points="975.5,816.6 975.2,820.4" stroke-width="2.04"/>
<polyline points="984.5,816.2 984.5,819.8" stroke-width="2.04"/>
<ellipse cx="972.9" cy="808.2" rx="5.8" ry="3.4" transform="rotate(15 972.9 808.2)" stroke-width="1.68"/>
<ellipse cx="991.0" cy="805.6" rx="3.2" ry="1.7" stroke-width="1.68"/>
<polygon points="972.9,780.3 972.9,799.1 978.7,801.7 984.5,799.1 984.5,780.3" stroke-width="1.68" fill="#fff"/>
<ellipse cx="978.7" cy="779.7" rx="5.8" ry="2.8" stroke-width="1.68" fill="#fff"/>
<ellipse cx="978.7" cy="780.0" rx="2.1" ry="1.2" stroke-width="2.40"/>
<polyline points="731.7,660.0 731.7,689.1 751.7,700.4" stroke-width="2.04"/>
<polyline points="751.7,700.4 839.7,751.2" stroke-width="1.92"/>
<polyline points="839.7,726.0 839.7,764.8" stroke-width="1.68"/>
<path d="M839.7 726.0 C840.6 727.0 842.7 730.5 844.9 732.4 C847.0 734.4 849.6 736.2 852.6 737.6 C855.7 739.0 861.3 740.3 863.0 740.8" stroke-width="1.68"/>
<path d="M839.7 764.8 C840.6 766.1 842.7 770.4 844.9 772.5 C847.0 774.7 848.8 776.3 852.6 777.7 C856.5 779.1 865.6 780.4 868.2 780.9" stroke-width="1.68"/>
<polyline points="725.9,660.0 725.9,680.7 731.7,683.9" stroke-width="1.68"/>
<polyline points="776.3,643.2 729.1,734.4" stroke-width="1.32"/>
<polyline points="817.7,729.2 789.3,779.0" stroke-width="1.32"/>
<polyline points="822.9,743.4 812.5,749.3 839.1,764.1" stroke-width="2.28"/>
<polyline points="912.1,788.8 912.7,800.4 922.4,806.2 940.5,795.2 947.7,791.3 940.5,787.5 939.3,786.2" stroke-width="1.80"/>
<polyline points="912.7,790.0 922.4,795.2 939.3,786.2" stroke-width="1.80"/>
<polyline points="922.4,795.2 922.4,806.2" stroke-width="1.80"/>
<polyline points="873.3,783.6 916.0,810.1 922.4,806.2" stroke-width="1.80"/>
<polyline points="712.9,1243.4 712.9,1258.3 728.3,1266.9 730.6,1265.4" stroke-width="2.04"/>
<polyline points="712.9,1243.4 752.2,1222.6" stroke-width="2.04"/>
<polyline points="716.3,1245.1 716.3,1255.4 728.9,1262.3 744.8,1253.2" stroke-width="1.56"/>
<polyline points="716.3,1245.1 751.6,1226.3" stroke-width="1.56"/>
<polyline points="730.6,1265.4 730.6,1285.2 735.7,1288.1 735.7,1293.8 749.9,1302.3" stroke-width="2.04"/>
<polyline points="730.6,1265.4 738.5,1261.2 738.5,1273.2 741.9,1273.2 745.4,1270.3 745.4,1253.2 753.3,1254.3 762.4,1249.2" stroke-width="1.68"/>
<polyline points="732.3,1266.3 732.3,1284.6" stroke-width="1.68"/>
<polyline points="741.9,1273.2 791.5,1302.3" stroke-width="1.68"/>
<polygon points="723.2,1242.3 731.1,1237.7 736.3,1240.6 728.3,1245.1" stroke-width="1.68"/>
<polyline points="728.3,1245.1 728.5,1246.9 736.3,1242.3 736.3,1240.6" stroke-width="1.68"/>
<polyline points="750.5,1220.5 750.5,1201.1 757.3,1196.5 760.2,1197.6 760.2,1222.8" stroke-width="1.92"/>
<polyline points="752.8,1202.8 752.8,1220.5" stroke-width="1.44"/>
<polyline points="750.5,1201.1 752.8,1202.8 759.6,1198.2" stroke-width="1.44"/>
<polyline points="750.5,1220.5 753.3,1226.3 760.2,1222.8" stroke-width="1.80"/>
<polyline points="749.9,1226.8 757.9,1222.8 761.3,1225.1 754.7,1230.8 749.9,1226.8" stroke-width="1.80"/>
<polyline points="754.7,1230.8 754.7,1232.6 761.3,1226.8 761.3,1225.1" stroke-width="1.80"/>
<polyline points="760.2,1220.5 769.3,1215.4" stroke-width="1.80"/>
<polyline points="756.7,1230.8 756.7,1244.6 762.4,1248.0" stroke-width="1.80"/>
<polyline points="757.9,1238.9 761.3,1237.1 771.5,1242.3" stroke-width="1.80"/>
<polygon points="760.7,1240.2 771.0,1243.7 771.0,1248.2 760.7,1245.9" stroke-width="1.80" fill="#111"/>
<polygon points="768.7,1270.9 768.7,1190.2 771.5,1187.6 776.1,1185.3 781.2,1187.1 782.9,1189.6 782.9,1197.6 778.9,1202.2 778.9,1274.9 773.8,1273.2" stroke-width="1.92" fill="#fff"/>
<polyline points="773.3,1191.3 773.3,1273.2" stroke-width="1.92"/>
<polyline points="776.1,1201.3 776.1,1274.3" stroke-width="1.92"/>
<polyline points="768.7,1190.2 773.3,1191.3 776.1,1201.3" stroke-width="1.92"/>
<polygon points="777.5,1186.8 780.6,1187.6 781.6,1199.4 778.9,1201.9" stroke-width="1.92" fill="#111"/>
<polygon points="774.7,1246.9 777.5,1246.9 777.5,1273.4 774.7,1272.6" stroke-width="1.92" fill="#111"/>
<polyline points="771.5,1246.9 771.5,1271.8" stroke-width="1.92"/>
<polyline points="769.8,1270.9 778.4,1275.5 783.8,1271.8" stroke-width="1.92"/>
<path d="M778.9 1218.8 C779.5 1218.3 781.7 1218.0 782.4 1216.0 C783.0 1214.0 782.8 1209.9 782.9 1206.8 C783.0 1203.7 782.9 1199.2 782.9 1197.6" stroke-width="1.92"/>
<polygon points="794.3,1177.3 794.3,1203.4 799.4,1205.9 804.6,1203.4 804.6,1177.3" stroke-width="1.80" fill="#fff"/>
<path d="M794.3 1203.4 C795.2 1203.8 797.7 1205.9 799.4 1205.9 C801.1 1205.9 803.7 1203.8 804.6 1203.4" stroke-width="1.80"/>
<ellipse cx="799.4" cy="1177.3" rx="5.1" ry="1.8" stroke-width="1.80" fill="#fff"/>
<polygon points="796.8,1166.2 796.8,1177.3 801.4,1177.3 801.4,1166.2" stroke-width="1.80" fill="#fff"/>
<ellipse cx="799.1" cy="1165.8" rx="2.3" ry="1.0" stroke-width="1.80" fill="#fff"/>
<path d="M796.8 1177.3 C797.2 1177.5 798.3 1178.4 799.1 1178.4 C799.8 1178.4 801.0 1177.5 801.4 1177.3" stroke-width="1.80"/>
<polygon points="780.6,1220.5 796.0,1230.3 822.8,1216.5 826.7,1219.4 826.7,1232.0 797.7,1247.4 796.0,1244.8 780.6,1238.3" stroke-width="1.80" fill="#fff"/>
<polyline points="780.6,1220.5 796.0,1230.3 822.8,1216.5" stroke-width="1.80"/>
<polyline points="796.0,1230.3 796.0,1244.8" stroke-width="1.80"/>
<polyline points="822.8,1216.5 822.8,1229.7 796.0,1244.8" stroke-width="1.80"/>
<polyline points="826.7,1218.2 840.4,1211.4" stroke-width="1.56"/>
<polyline points="826.7,1232.0 826.7,1246.9 821.6,1243.4 821.6,1240.0" stroke-width="1.56"/>
<polyline points="826.7,1246.9 844.4,1236.6" stroke-width="1.56"/>
<polyline points="808.0,1202.2 818.8,1196.5" stroke-width="1.56"/>
<polyline points="782.9,1207.9 789.8,1203.9" stroke-width="1.56"/>
<polyline points="776.1,1238.9 804.6,1255.4" stroke-width="2.40"/>
<polyline points="776.1,1242.9 802.3,1258.9" stroke-width="1.56"/>
<polyline points="780.6,1249.2 787.5,1253.7" stroke-width="1.56"/>
<polyline points="780.6,1238.3 780.6,1243.4" stroke-width="1.56"/>
<polyline points="803.4,1246.9 803.4,1266.3" stroke-width="1.80"/>
<polyline points="806.8,1246.9 806.8,1267.5" stroke-width="1.80"/>
<polyline points="803.4,1266.3 817.1,1266.3" stroke-width="1.80"/>
<polygon points="796.6,1258.9 801.1,1260.0 802.3,1262.9 797.7,1262.3" stroke-width="1.80" fill="#111"/>
<ellipse cx="784.1" cy="1252.6" rx="2.0" ry="1.4" stroke-width="1.80"/>
<polygon points="786.9,1270.3 786.9,1286.9 790.0,1288.6 793.2,1286.9 793.2,1270.3" stroke-width="1.80" fill="#fff"/>
<ellipse cx="790.0" cy="1269.8" rx="3.2" ry="1.5" stroke-width="1.80" fill="#fff"/>
<polygon points="804.6,1278.9 804.6,1293.2 810.8,1293.2 810.8,1278.9" stroke-width="1.80" fill="#fff"/>
<polygon points="802.8,1278.0 807.4,1275.9 811.2,1278.0 807.4,1279.6" stroke-width="1.80" fill="#111"/>
<ellipse cx="807.4" cy="1295.6" rx="5.3" ry="2.7" stroke-width="1.80" fill="#fff"/>
<polygon points="804.6,1283.5 804.6,1293.8 810.8,1293.8 810.8,1283.5" stroke-width="1.80" fill="#fff"/>
<polyline points="804.6,1278.9 804.6,1293.8" stroke-width="1.80"/>
<polyline points="810.8,1278.9 810.8,1293.8" stroke-width="1.80"/>
<polyline points="823.4,1238.4 827.4,1241.3 827.4,1246.4 845.1,1236.5" stroke-width="1.68"/>
<polygon points="814.9,1248.1 814.9,1265.9 817.4,1267.4 820.0,1265.9 820.0,1248.1" stroke-width="1.68" fill="#fff"/>
<ellipse cx="817.4" cy="1247.8" rx="2.5" ry="1.1" stroke-width="1.68" fill="#fff"/>
<polyline points="802.9,1247.0 802.9,1267.6" stroke-width="1.68"/>
<polyline points="806.4,1248.1 806.4,1266.5" stroke-width="1.68"/>
<polyline points="820.0,1261.9 851.9,1280.8" stroke-width="2.16"/>
<polyline points="821.1,1265.9 849.0,1282.5" stroke-width="1.56"/>
<polyline points="822.3,1276.2 828.5,1272.5 850.7,1285.1 846.2,1292.8 822.3,1276.2" stroke-width="1.56"/>
<polyline points="826.3,1277.3 829.7,1275.6 832.5,1278.2 828.9,1280.2 826.3,1277.3" stroke-width="1.56"/>
<polyline points="825.1,1280.2 846.8,1292.8" stroke-width="1.56"/>
<polyline points="820.0,1282.5 822.3,1285.3 818.3,1288.2" stroke-width="1.56"/>
<polyline points="813.2,1283.6 845.6,1304.8 855.3,1301.9" stroke-width="1.56"/>
<polygon points="854.2,1277.9 862.7,1272.8 865.8,1274.5 865.8,1296.5 855.5,1302.2" stroke-width="2.04" fill="#fff"/>
<polyline points="855.5,1278.5 855.5,1302.2" stroke-width="2.04"/>
<polyline points="854.2,1277.9 855.5,1278.5 865.8,1274.5" stroke-width="2.04"/>
<polyline points="851.9,1280.8 854.4,1278.1" stroke-width="2.04"/>
<path d="M870.7 1295.3 C872.3 1295.4 877.2 1294.8 880.3 1295.6 C883.5 1296.5 886.3 1298.2 889.4 1300.2 C892.6 1302.2 896.6 1304.9 899.1 1307.7 C901.7 1310.4 903.7 1314.2 904.8 1316.8 C905.9 1319.5 905.8 1322.6 905.9 1323.7" stroke-width="1.68"/>
<ellipse cx="865.5" cy="1317.4" rx="10.5" ry="5.3" stroke-width="1.80" fill="#fff"/>
<ellipse cx="866.7" cy="1313.2" rx="7.1" ry="3.4" stroke-width="1.80" fill="#fff"/>
<ellipse cx="866.7" cy="1309.7" rx="8.7" ry="4.1" stroke-width="1.80" fill="#fff"/>
<polygon points="863.3,1304.8 863.3,1309.0 870.1,1309.0 870.1,1304.8" stroke-width="1.80" fill="#fff"/>
<ellipse cx="866.7" cy="1305.0" rx="3.4" ry="1.6" stroke-width="1.80" fill="#fff"/>
<polyline points="863.3,1305.4 863.3,1309.0" stroke-width="1.80"/>
<polyline points="870.1,1305.4 870.1,1309.0" stroke-width="1.80"/>
<polygon points="874.6,1315.1 879.8,1316.6 902.0,1323.1 904.2,1324.3 904.2,1332.9 899.7,1335.1 899.1,1326.6 882.0,1320.8 876.9,1325.8 869.0,1323.9" stroke-width="1.92" fill="#fff"/>
<polyline points="879.8,1316.6 878.1,1319.7 899.1,1326.6" stroke-width="1.92"/>
<polygon points="891.7,1301.9 899.7,1297.4 903.3,1299.1 903.3,1308.8 896.3,1313.4 892.3,1311.7" stroke-width="1.92" fill="#fff"/>
<polyline points="891.7,1301.9 895.7,1304.2 903.3,1299.1" stroke-width="1.92"/>
<polyline points="895.7,1304.2 896.3,1313.4" stroke-width="1.92"/>
<ellipse cx="825.9" cy="1315.5" rx="2.5" ry="1.6" stroke-width="1.44"/>
<polygon points="833.7,1313.6 839.9,1313.6 839.9,1322.0 833.7,1322.0" stroke-width="1.44"/>
<ellipse cx="848.1" cy="1313.4" rx="2.5" ry="1.6" stroke-width="1.44"/>
<polyline points="787.0,1301.0 830.8,1325.4" stroke-width="1.68"/>
<path d="M830.8 1325.4 C831.5 1326.5 832.6 1329.8 834.8 1331.7 C837.0 1333.6 840.7 1335.6 843.9 1336.9 C847.1 1338.1 852.5 1338.8 854.2 1339.1" stroke-width="1.68"/>
<polyline points="854.2,1339.1 874.6,1349.5" stroke-width="1.68"/>
<polyline points="830.8,1325.4 830.8,1360.9" stroke-width="1.68"/>
<polyline points="854.2,1339.1 854.2,1360.3 859.8,1364.2" stroke-width="1.68"/>
<polyline points="787.0,1321.6 830.8,1347.2" stroke-width="1.92"/>
<polyline points="887.7,1338.0 891.7,1339.7 891.7,1335.1 888.3,1333.4 889.4,1330.6 894.0,1332.9 894.0,1329.4" stroke-width="1.56"/>
<polyline points="913.3,1322.6 917.9,1319.7 921.3,1321.4 915.6,1324.8 913.3,1322.6" stroke-width="1.56"/>
<polygon points="873.9,1349.0 885.9,1342.2 886.5,1356.8" stroke-width="1.92"/>
<polyline points="887.0,1344.2 927.4,1320.4" stroke-width="1.92"/>
<polyline points="886.5,1356.8 888.2,1359.7 903.5,1351.7 904.1,1384.3" stroke-width="1.92"/>
<polyline points="890.5,1359.7 890.8,1382.0" stroke-width="1.56"/>
<polyline points="893.9,1360.8 894.2,1380.8" stroke-width="1.56"/>
<polyline points="890.8,1382.0 894.4,1380.8 904.1,1386.0" stroke-width="1.80"/>
<polyline points="904.1,1384.3 928.0,1371.1" stroke-width="1.80"/>
<polyline points="854.0,1339.6 854.0,1360.8 891.0,1382.6" stroke-width="1.80"/>
<path d="M839.8 1368.3 C841.3 1369.3 845.5 1373.2 848.9 1374.5 C852.3 1375.9 856.1 1376.6 860.3 1376.5 C864.5 1376.4 871.7 1374.6 873.9 1374.2" stroke-width="1.80"/>
<polygon points="854.6,1277.6 863.5,1272.7 866.5,1274.4 866.8,1295.0 856.0,1300.9" stroke-width="1.92" fill="#fff"/>
<polyline points="856.0,1278.4 856.3,1300.7" stroke-width="1.92"/>
<polyline points="854.6,1277.6 856.0,1278.4 866.5,1274.4" stroke-width="1.92"/>
<polyline points="839.8,1272.1 854.6,1281.5" stroke-width="1.56"/>
<polyline points="839.8,1283.5 851.2,1287.0 854.6,1284.7" stroke-width="1.56"/>
<polyline points="839.8,1297.3 846.6,1301.3 854.6,1297.3" stroke-width="1.56"/>
<polygon points="928.0,1306.4 928.0,1371.7 934.5,1374.5 934.5,1336.2 938.3,1334.5 938.3,1306.4" stroke-width="2.04" fill="#fff"/>
<polyline points="930.3,1336.2 930.3,1372.3" stroke-width="2.04"/>
<polyline points="928.0,1333.9 930.3,1336.2 934.5,1336.2" stroke-width="2.04"/>
<polygon points="928.6,1306.4 928.6,1333.9 933.4,1336.4 938.3,1333.9 938.3,1306.4" stroke-width="2.04" fill="#fff"/>
<ellipse cx="933.4" cy="1306.4" rx="4.8" ry="1.8" stroke-width="2.04" fill="#fff"/>
<polygon points="931.4,1295.0 931.4,1306.4 936.0,1306.4 936.0,1295.0" stroke-width="2.04" fill="#fff"/>
<ellipse cx="933.7" cy="1294.8" rx="2.3" ry="1.0" stroke-width="2.04" fill="#fff"/>
<polygon points="939.4,1290.4 946.8,1285.3 947.4,1322.5 940.5,1326.1" stroke-width="1.80" fill="#fff"/>
<polyline points="941.1,1291.3 941.4,1325.0" stroke-width="1.80"/>
<polygon points="950.2,1292.7 950.2,1320.2 955.3,1322.7 960.5,1320.2 960.5,1292.7" stroke-width="1.80" fill="#fff"/>
<ellipse cx="955.3" cy="1292.7" rx="5.1" ry="2.3" stroke-width="1.80" fill="#fff"/>
<ellipse cx="955.3" cy="1293.3" rx="2.0" ry="1.0" stroke-width="2.64"/>
<polygon points="972.4,1281.3 972.4,1306.4 976.4,1309.0 982.1,1307.6 982.1,1281.3" stroke-width="1.80" fill="#fff"/>
<ellipse cx="977.3" cy="1281.3" rx="4.8" ry="1.8" stroke-width="1.80" fill="#fff"/>
<polygon points="975.3,1269.8 975.3,1281.3 979.4,1281.3 979.4,1269.8" stroke-width="1.80" fill="#fff"/>
<ellipse cx="977.3" cy="1269.6" rx="2.0" ry="0.9" stroke-width="1.80" fill="#fff"/>
<polyline points="938.3,1334.5 987.0,1306.7 987.5,1308.3 987.5,1333.2 960.9,1348.4 961.0,1380.8" stroke-width="2.04"/>
<polyline points="961.4,1295.4 971.8,1289.6" stroke-width="1.68"/>
<polyline points="934.5,1374.5 942.2,1370.0 942.8,1370.5 942.8,1391.7" stroke-width="1.68"/>
<polyline points="940.0,1371.7 940.5,1391.1" stroke-width="1.68"/>
<polygon points="935.4,1396.9 942.8,1392.1 961.0,1380.8 975.3,1389.8 975.3,1396.9 958.2,1408.3 949.6,1408.9 935.4,1400.3" stroke-width="2.04" fill="#fff"/>
<polyline points="935.4,1396.9 950.2,1405.5 958.2,1405.1 975.3,1393.7" stroke-width="2.04"/>
<polyline points="950.2,1405.5 950.0,1408.9" stroke-width="2.04"/>
<polyline points="958.2,1405.1 958.2,1408.3" stroke-width="2.04"/>
<ellipse cx="947.9" cy="1398.0" rx="5.1" ry="3.0" transform="rotate(15 947.9 1398.0)" stroke-width="1.68"/>
<ellipse cx="963.9" cy="1395.7" rx="2.8" ry="1.5" stroke-width="1.68"/>
<polygon points="947.9,1373.4 947.9,1390.0 953.1,1392.3 958.2,1390.0 958.2,1373.4" stroke-width="1.68" fill="#fff"/>
<ellipse cx="953.1" cy="1372.8" rx="5.1" ry="2.5" stroke-width="1.68" fill="#fff"/>
<ellipse cx="953.1" cy="1373.1" rx="1.8" ry="1.0" stroke-width="2.40"/>
<polyline points="735.7,1266.9 735.7,1292.7 753.3,1302.6" stroke-width="2.04"/>
<polyline points="753.3,1302.6 830.7,1347.6" stroke-width="1.92"/>
<polyline points="830.7,1325.3 830.7,1359.6" stroke-width="1.68"/>
<path d="M830.7 1325.3 C831.5 1326.2 833.4 1329.3 835.3 1331.0 C837.2 1332.7 839.5 1334.3 842.1 1335.6 C844.8 1336.8 849.7 1338.0 851.2 1338.4" stroke-width="1.68"/>
<path d="M830.7 1359.6 C831.5 1360.8 833.4 1364.6 835.3 1366.5 C837.2 1368.4 838.7 1369.8 842.1 1371.1 C845.5 1372.3 853.5 1373.5 855.8 1373.9" stroke-width="1.68"/>
<polyline points="730.6,1266.9 730.6,1285.2 735.7,1288.1" stroke-width="1.68"/>
<ellipse cx="885.3" cy="1210.5" rx="4.5" ry="3.2" stroke-width="1.44" fill="#111"/>
<ellipse cx="885.3" cy="1209.5" rx="2.3" ry="1.3" stroke-width="1.44" fill="#fff"/>
<polyline points="885.3,1213.1 885.3,1221.8" stroke-width="2.40"/>
<polyline points="890.2,1209.8 922.5,1201.7" stroke-width="1.32"/>
<polyline points="885.3,1223.1 885.3,1315.6" stroke-width="1.14" stroke-dasharray="14 3 2.5 3"/>
<polyline points="846.5,1237.3 887.0,1256.7" stroke-width="1.14" stroke-dasharray="14 3 2.5 3"/>
<polyline points="846.5,1237.3 846.5,1311.7" stroke-width="1.14" stroke-dasharray="14 3 2.5 3"/>
<ellipse cx="847.2" cy="1314.3" rx="2.3" ry="1.3" stroke-width="1.14"/>
<polyline points="767.3,1297.1 746.3,1326.2" stroke-width="1.32"/>
<polygon points="826.7,1363.1 831.2,1362.4 835.7,1367.6 835.7,1378.0 826.7,1371.5" stroke-width="1.80" fill="#fff"/>
<polyline points="831.2,1362.4 831.2,1368.9 835.7,1378.0" stroke-width="1.80"/>
<polyline points="826.7,1371.5 831.2,1368.9" stroke-width="1.80"/>
<polyline points="774.3,1391.5 826.7,1372.1" stroke-width="1.32"/>
<polyline points="867.4,1379.3 867.4,1420.0" stroke-width="1.56"/>
<polyline points="834.4,1381.2 834.4,1525.4" stroke-width="1.14" stroke-dasharray="26 4 3 4"/>
<polyline points="883.8,1382.5 883.8,1530.6" stroke-width="1.14" stroke-dasharray="26 4 3 4"/>
<polyline points="881.6,1363.7 881.6,1375.4 890.0,1379.3" stroke-width="1.44"/>
<polyline points="890.0,1362.4 890.0,1380.5" stroke-width="1.44"/>
<polyline points="884.9,1374.1 900.4,1393.5" stroke-width="1.32"/>
<polyline points="867.2,1390.0 867.2,1420.4" stroke-width="1.80"/>
<polygon points="835.3,1438.5 835.3,1467.6 841.7,1476.7 854.7,1482.1 867.0,1483.8 880.5,1482.1 892.2,1476.7 898.7,1467.6 898.7,1438.5" stroke-width="2.04" fill="#fff"/>
<ellipse cx="867.0" cy="1438.5" rx="31.7" ry="18.1" stroke-width="2.04" fill="#fff"/>
<path d="M835.3 1467.6 C836.4 1469.2 838.5 1474.5 841.7 1476.9 C845.0 1479.4 850.5 1481.2 854.7 1482.4 C858.9 1483.5 862.7 1483.9 867.0 1483.9 C871.3 1483.9 876.3 1483.5 880.5 1482.4 C884.7 1481.2 889.2 1479.4 892.2 1476.9 C895.2 1474.5 897.6 1469.2 898.7 1467.6" stroke-width="2.04"/>
<path d="M871.5 1430 L883 1430 L883.5 1448 L872 1446 Z M886.5 1434 L893.5 1438 L893 1453 L886.5 1452 Z" fill="url(#stip)" stroke="none"/>
<ellipse cx="867.0" cy="1441.1" rx="9.7" ry="4.7" stroke-width="1.80" fill="#fff"/>
<ellipse cx="867.0" cy="1434.6" rx="8.5" ry="4.1" stroke-width="1.80" fill="#fff"/>
<ellipse cx="867.0" cy="1431.1" rx="7.8" ry="3.6" stroke-width="1.80" fill="#fff"/>
<ellipse cx="867.0" cy="1427.5" rx="9.1" ry="4.4" stroke-width="1.80" fill="#fff"/>
<polygon points="862.7,1421.7 862.7,1426.9 871.7,1426.9 871.7,1421.7" stroke-width="1.80" fill="#fff"/>
<ellipse cx="867.2" cy="1421.7" rx="4.5" ry="2.2" stroke-width="1.80" fill="#fff"/>
<ellipse cx="867.2" cy="1421.4" rx="1.6" ry="0.9" stroke-width="1.80" fill="#111"/>
<ellipse cx="847.9" cy="1436.6" rx="2.6" ry="1.7" stroke-width="1.44"/>
<polyline points="847.6,1453.4 847.6,1465.7 854.7,1468.3" stroke-width="1.44" stroke-dasharray="5 3"/>
<polyline points="854.0,1458.6 854.0,1467.6" stroke-width="1.44" stroke-dasharray="5 3"/>
<polyline points="875.4,1466.3 875.4,1478.0" stroke-width="1.44" stroke-dasharray="5 3"/>
<polyline points="882.5,1470.8 882.5,1479.3" stroke-width="1.44" stroke-dasharray="5 3"/>
<polyline points="801.0,1428.2 834.6,1450.8" stroke-width="1.32"/>
<polyline points="893.5,1443.0 921.9,1444.3" stroke-width="1.32"/>
<polyline points="917.4,1497.4 892.2,1520.0" stroke-width="1.32"/>
<polyline points="805.5,1544.6 847.6,1516.1" stroke-width="1.32"/>
<polyline points="805.5,1544.6 868.9,1542.0 874.1,1531.6" stroke-width="1.32"/>
<polyline points="824.9,1500.6 806.8,1510.9 898.7,1565.3 925.8,1548.1 919.3,1544.6" stroke-width="1.74"/>
<polyline points="832.7,1499.9 844.3,1494.1 919.3,1538.8 919.3,1545.2" stroke-width="1.74"/>
<polyline points="824.9,1500.6 828.8,1502.8 832.7,1499.9" stroke-width="1.74"/>
<polyline points="806.8,1510.9 807.1,1512.6 898.7,1566.9 925.8,1549.7 925.8,1548.1" stroke-width="1.56"/>
<polygon points="835.3,1498.7 841.1,1494.8 846.9,1498.0 846.9,1503.8 840.4,1507.1 835.3,1503.8" stroke-width="1.56" fill="#fff"/>
<polyline points="835.3,1498.7 840.7,1501.5 846.9,1498.0" stroke-width="1.56"/>
<polyline points="840.7,1501.5 840.4,1507.1" stroke-width="1.56"/>
<ellipse cx="820.4" cy="1509.0" rx="3.6" ry="2.3" stroke-width="1.56"/>
<polygon points="831.4,1514.8 838.5,1514.8 838.5,1519.3 831.4,1519.3" stroke-width="1.56"/>
<polygon points="880.5,1522.6 887.7,1522.6 887.7,1526.5 880.5,1526.5" stroke-width="1.56"/>
<ellipse cx="861.1" cy="1522.6" rx="8.4" ry="5.4" stroke-width="1.80"/>
<polygon points="845.6,1513.9 850.8,1515.2 850.1,1517.4 845.0,1515.7" stroke-width="1.80" fill="#111"/>
<polygon points="872.8,1529.1 878.0,1530.3 877.3,1532.5 872.1,1531.0" stroke-width="1.80" fill="#111"/>
<polygon points="892.2,1531.0 898.7,1527.4 903.8,1530.3 903.8,1535.5 897.4,1538.8 892.2,1536.2" stroke-width="1.80" fill="#fff"/>
<polyline points="892.2,1531.0 897.6,1533.6 903.8,1530.3" stroke-width="1.80"/>
<polyline points="897.6,1533.6 897.4,1538.8" stroke-width="1.80"/>
<ellipse cx="889.0" cy="1536.2" rx="2.8" ry="2.3" stroke-width="1.80" fill="#111"/>
<ellipse cx="889.6" cy="1549.1" rx="2.8" ry="1.8" stroke-width="1.80"/>
<polygon points="896.1,1549.7 910.3,1540.7 919.3,1546.5 919.3,1551.7 904.5,1560.7 896.1,1556.9" stroke-width="1.80" fill="#fff"/>
<polyline points="896.1,1549.7 904.5,1554.9 919.3,1546.5" stroke-width="1.80"/>
<polyline points="904.5,1554.9 904.5,1560.7" stroke-width="1.80"/>
</svg>
<div class="t b" style="left:164.6px;top:96.53px;font-size:17.8px;transform:scaleX(1.1275);">Note</div>
<div class="t s" style="left:165.2px;top:118.61px;font-size:20.4px;">Insert the tray(3) with the front side of the pickup</div>
<div class="t s" style="left:165.2px;top:143.61px;font-size:20.4px;">mechanism assembly descended. (The slider position</div>
<div class="t s" style="left:165.2px;top:168.61px;font-size:20.4px;">to the left side.)</div>
<div class="t b" style="left:125.7px;top:890.72px;font-size:19px;transform:scaleX(1.0843);">1-5.</div>
<div class="t b" style="left:166.5px;top:890.72px;font-size:19px;transform:scaleX(1.0661);">PC Board Replacement</div>
<div class="t s" style="left:145.0px;top:914.51px;font-size:20.4px;">1.</div>
<div class="t s" style="left:166.3px;top:914.51px;font-size:20.4px;">Before removing the main PC board, be sure to</div>
<div class="t s" style="left:166.3px;top:939.56px;font-size:20.4px;">short-circuit the laser diode output land.</div>
<div class="t s" style="left:166.3px;top:964.62px;font-size:20.4px;">After replacing, open the land as it was after inserting</div>
<div class="t s" style="left:166.3px;top:989.66px;font-size:20.4px;">the flexible cables.</div>
<div class="t s" style="left:145.0px;top:1014.71px;font-size:20.4px;">2.</div>
<div class="t s" style="left:166.3px;top:1014.71px;font-size:20.4px;">Remove six flexible cables and remove one connector.</div>
<div class="t s" style="left:145.0px;top:1039.76px;font-size:20.4px;">3.</div>
<div class="t s" style="left:166.3px;top:1039.76px;font-size:20.4px;">Remove four screws.</div>
<div class="t s" style="left:145.0px;top:1064.82px;font-size:20.4px;">4.</div>
<div class="t s" style="left:166.3px;top:1064.82px;font-size:20.4px;">Release two claws and remove the main PC board.</div>
<div class="t b" style="left:624.1px;top:93.12px;font-size:20.3px;transform:scaleX(1.0822);">Mechanism Parts</div>
<div class="t b" style="left:627.8px;top:119.22px;font-size:19px;transform:scaleX(1.0843);">2-1.</div>
<div class="t b" style="left:670.6px;top:119.22px;font-size:19px;transform:scaleX(1.0543);">Loading Belt</div>
<div class="t a" style="left:647.5px;top:143.69px;font-size:19.5px;">1.</div>
<div class="t s" style="left:670.3px;top:143.20px;font-size:20.3px;">Remove the gear(1) by releasing the claw.</div>
<div class="t a" style="left:647.5px;top:168.72px;font-size:19.5px;">2.</div>
<div class="t s" style="left:670.3px;top:168.23px;font-size:20.3px;">Remove the gear(2).</div>
<div class="t a" style="left:647.5px;top:193.75px;font-size:19.5px;">3.</div>
<div class="t s" style="left:670.3px;top:193.26px;font-size:20.3px;">Remove the gear(3) and the loading belt(4).</div>
<div class="t a" style="left:647.5px;top:218.78px;font-size:19.5px;">4.</div>
<div class="t s" style="left:670.3px;top:218.29px;font-size:20.3px;">Replace the loading belt(4) with a new one.</div>
<div class="t a" style="left:647.5px;top:243.81px;font-size:19.5px;">5.</div>
<div class="t s" style="left:670.3px;top:243.32px;font-size:20.3px;">when mounting, perform the reverse order of the</div>
<div class="t s" style="left:670.3px;top:268.35px;font-size:20.3px;">removal.</div>
<div class="t a" style="left:670.6px;top:293.87px;font-size:19.5px;letter-spacing:-0.027px;">Note:</div>
<div class="t s" style="left:670.3px;top:318.41px;font-size:20.3px;">When mounting the loading belt(4), twisting and</div>
<div class="t s" style="left:670.3px;top:343.44px;font-size:20.3px;">attaching of a grease, etc. not allowed.</div>
<div class="t b" style="left:629.8px;top:860.02px;font-size:19px;transform:scaleX(1.0843);">2-2.</div>
<div class="t b" style="left:672.2px;top:860.02px;font-size:19px;transform:scaleX(1.0583);">Loading Motor</div>
<div class="t a" style="left:648.0px;top:884.19px;font-size:19.5px;">1.</div>
<div class="t s" style="left:671.2px;top:882.70px;font-size:20.3px;">Remove the loading belt.</div>
<div class="t a" style="left:648.0px;top:909.23px;font-size:19.5px;">2.</div>
<div class="t s" style="left:671.2px;top:907.74px;font-size:20.3px;">Remove two screw(1) and two claws. Then remove</div>
<div class="t s" style="left:671.2px;top:932.78px;font-size:20.3px;">the loading motor(2)(with the loading motor PC</div>
<div class="t s" style="left:671.2px;top:957.82px;font-size:20.3px;">board(3) attached).</div>
<div class="t a" style="left:648.0px;top:984.35px;font-size:19.5px;">3.</div>
<div class="t s" style="left:671.2px;top:982.86px;font-size:20.3px;">Desolder the terminal section of the loading motor(2)</div>
<div class="t a" style="left:648.0px;top:1009.39px;font-size:19.5px;">4.</div>
<div class="t s" style="left:671.2px;top:1007.90px;font-size:20.3px;">Replace the loading motor(2) with a new one.</div>
<div class="t a" style="left:648.0px;top:1034.43px;font-size:19.5px;">5.</div>
<div class="t s" style="left:671.2px;top:1032.94px;font-size:20.3px;">When mounting, perform the reverse order of the</div>
<div class="t s" style="left:671.2px;top:1057.98px;font-size:20.3px;">removal.</div>
<div class="t a" style="left:672.2px;top:1083.51px;font-size:19.5px;letter-spacing:-0.027px;">Note:</div>
<div class="t s" style="left:671.2px;top:1108.06px;font-size:20.3px;">When replacing the loading motor, meet the polarity</div>
<div class="t s" style="left:671.2px;top:1133.10px;font-size:20.3px;">phase of the terminals.</div>
<div class="t s" style="left:326.5px;top:815.28px;font-size:22px;letter-spacing:-0.111px;">Fig. 1-5</div>
<div class="t s" style="left:838.9px;top:825.68px;font-size:22px;letter-spacing:-0.396px;">Fig. 2-1</div>
<div class="t s" style="left:957.9px;top:1548.78px;font-size:22px;letter-spacing:-0.111px;">Fig. 2-2</div>
<div class="t a" style="left:600.8px;top:1556.50px;font-size:20.2px;letter-spacing:-0.072px;">– 32 –</div>
<div class="t a lab" style="left:346.6px;top:226.25px;font-size:11.28px;">Figure A</div>
<div class="t a lab" style="left:272.6px;top:245.29px;font-size:11.12px;">Gear (4)</div>
<div class="t a lab" style="left:386.0px;top:245.93px;font-size:11.19px;">Triangle mark</div>
<div class="t a lab" style="left:353.8px;top:352.25px;font-size:11.16px;">Position of the line</div>
<div class="t a lab" style="left:426.0px;top:376.10px;font-size:11.34px;">Pickup mechanism</div>
<div class="t a lab" style="left:426.0px;top:389.48px;font-size:11.13px;">assembly</div>
<div class="t a lab" style="left:318.0px;top:416.12px;font-size:10.96px;">Gear (4)</div>
<div class="t a lab" style="left:176.5px;top:451.43px;font-size:11.19px;">The first tooth of the gear of</div>
<div class="t a lab" style="left:176.5px;top:463.74px;font-size:11.18px;">this side on the tray rack gear.</div>
<div class="t a lab" style="left:431.7px;top:558.53px;font-size:11.07px;">Slider</div>
<div class="t a lab" style="left:404.5px;top:581.02px;font-size:11.2px;">Tray (3)</div>
<div class="t a lab" style="left:230.2px;top:626.96px;font-size:11.15px;">Rack gear</div>
<div class="t a lab" style="left:368.0px;top:629.26px;font-size:11.15px;">Gear (4)</div>
<div class="t a lab" style="left:236.2px;top:731.20px;font-size:10.99px;">Marking</div>
<div class="t a lab" style="left:296.5px;top:756.34px;font-size:11.06px;">Figure B</div>
<div class="t a lab" style="left:853.0px;top:393.86px;font-size:11.98px;">Gear (1)</div>
<div class="t a lab" style="left:853.0px;top:416.16px;font-size:11.98px;">Gear (2)</div>
<div class="t a lab" style="left:951.6px;top:450.46px;font-size:12.1px;">Loading belt (4)</div>
<div class="t a lab" style="left:845.6px;top:555.42px;font-size:11.79px;">Gear (3)</div>
<div class="t a lab" style="left:713.3px;top:736.61px;font-size:11.92px;">Claw</div>
<div class="t a lab" style="left:750.5px;top:782.72px;font-size:12.03px;">Mechanism</div>
<div class="t a lab" style="left:750.5px;top:795.59px;font-size:12.06px;">chassis assembly</div>
<div class="t a lab" style="left:924.1px;top:1197.28px;font-size:10.65px;">Screws (1)</div>
<div class="t a lab" style="left:701.0px;top:1327.76px;font-size:10.56px;">Mechanism</div>
<div class="t a lab" style="left:701.0px;top:1339.94px;font-size:10.59px;">chassis assembly</div>
<div class="t a lab" style="left:750.2px;top:1388.11px;font-size:10.62px;">Claw</div>
<div class="t a lab" style="left:901.3px;top:1401.75px;font-size:10.57px;">Claw</div>
<div class="t a lab" style="left:712.2px;top:1421.39px;font-size:10.64px;">Loading motor (2)</div>
<div class="t a lab" style="left:924.8px;top:1438.60px;font-size:10.75px;">Motor label</div>
<div class="t a lab" style="left:924.8px;top:1452.93px;font-size:10.36px;">side</div>
<div class="t a lab" style="left:919.5px;top:1477.21px;font-size:10.62px;">Loading motor</div>
<div class="t a lab" style="left:919.5px;top:1490.15px;font-size:10.57px;">PC board (3)</div>
<div class="t a lab" style="left:760.7px;top:1541.10px;font-size:10.39px;">Desolder</div>
</div>
</body></html>
